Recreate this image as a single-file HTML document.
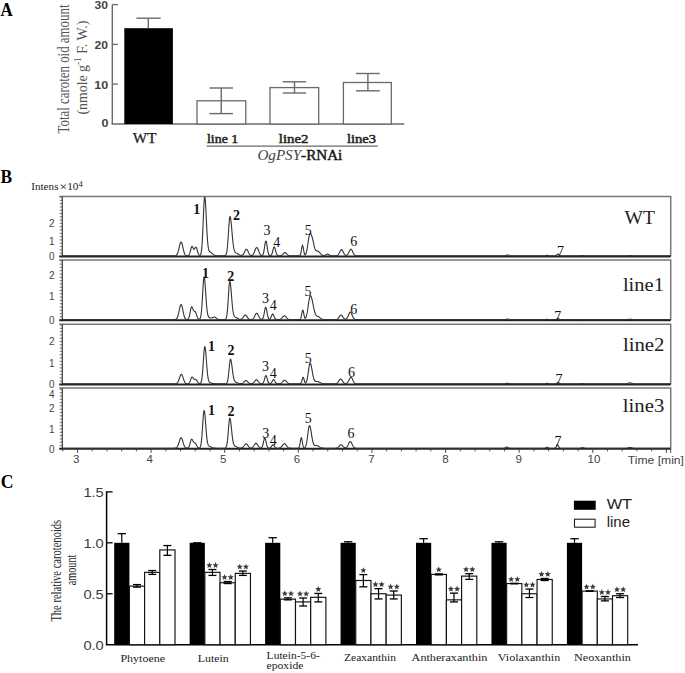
<!DOCTYPE html>
<html><head><meta charset="utf-8"><style>
html,body{margin:0;padding:0;background:#fff;width:685px;height:673px;overflow:hidden;font-family:"Liberation Sans",sans-serif;}
svg{display:block;}
</style></head><body>
<svg width="685" height="673" viewBox="0 0 685 673">
<text x="0.60" y="15.70" font-family='"Liberation Serif", serif' font-size="19.5" font-weight="bold" font-style="normal" fill="#000" text-anchor="start" textLength="12.20" lengthAdjust="spacingAndGlyphs" >A</text>
<line x1="112.30" y1="4.50" x2="112.30" y2="124.00" stroke="#6a6a6a" stroke-width="1.4"/>
<line x1="111.60" y1="124.00" x2="404.20" y2="124.00" stroke="#6a6a6a" stroke-width="1.4"/>
<line x1="112.30" y1="4.60" x2="117.90" y2="4.60" stroke="#6a6a6a" stroke-width="1.3"/>
<line x1="112.30" y1="44.40" x2="117.90" y2="44.40" stroke="#6a6a6a" stroke-width="1.3"/>
<line x1="112.30" y1="84.10" x2="117.90" y2="84.10" stroke="#6a6a6a" stroke-width="1.3"/>
<text x="94.50" y="8.80" font-family='"Liberation Sans", sans-serif' font-size="10.6" font-weight="bold" font-style="normal" fill="#444" text-anchor="start" textLength="13.50" lengthAdjust="spacingAndGlyphs" >30</text>
<text x="94.50" y="48.60" font-family='"Liberation Sans", sans-serif' font-size="10.6" font-weight="bold" font-style="normal" fill="#444" text-anchor="start" textLength="13.50" lengthAdjust="spacingAndGlyphs" >20</text>
<text x="94.20" y="88.70" font-family='"Liberation Sans", sans-serif' font-size="10.6" font-weight="bold" font-style="normal" fill="#444" text-anchor="start" textLength="14.00" lengthAdjust="spacingAndGlyphs" >10</text>
<text x="101.40" y="127.00" font-family='"Liberation Sans", sans-serif' font-size="10.6" font-weight="bold" font-style="normal" fill="#444" text-anchor="start" textLength="7.00" lengthAdjust="spacingAndGlyphs" >0</text>
<g transform="translate(69.3,133.5) rotate(-90)">
<text x="0.00" y="0.00" font-family='"Liberation Serif", serif' font-size="16.5" font-weight="normal" font-style="normal" fill="#555" text-anchor="start" textLength="129.00" lengthAdjust="spacingAndGlyphs" >Total caroten oid amount</text>
</g>
<g transform="translate(86.8,114.6) rotate(-90)">
<text x="0.00" y="0.00" font-family='"Liberation Serif", serif' font-size="15.0" font-weight="normal" font-style="normal" fill="#555" text-anchor="start" textLength="94.00" lengthAdjust="spacingAndGlyphs" >(nmole g<tspan dy="-5.5" font-size="10">-1</tspan><tspan dy="5.5"> F. W.)</tspan></text>
</g>
<rect x="124.30" y="28.20" width="48.60" height="95.80" fill="#000" stroke="none" stroke-width="0"/>
<line x1="148.30" y1="18.20" x2="148.30" y2="28.20" stroke="#6a6a6a" stroke-width="1.4"/>
<line x1="136.40" y1="18.20" x2="160.70" y2="18.20" stroke="#6a6a6a" stroke-width="1.4"/>
<rect x="197.00" y="100.80" width="48.80" height="23.20" fill="#fff" stroke="#6a6a6a" stroke-width="1.3"/>
<line x1="221.25" y1="88.00" x2="221.25" y2="113.60" stroke="#6a6a6a" stroke-width="1.4"/>
<line x1="209.50" y1="88.00" x2="233.00" y2="88.00" stroke="#6a6a6a" stroke-width="1.4"/>
<line x1="209.50" y1="113.60" x2="233.00" y2="113.60" stroke="#6a6a6a" stroke-width="1.4"/>
<rect x="270.00" y="87.60" width="48.70" height="36.40" fill="#fff" stroke="#6a6a6a" stroke-width="1.3"/>
<line x1="294.50" y1="81.80" x2="294.50" y2="93.00" stroke="#6a6a6a" stroke-width="1.4"/>
<line x1="282.80" y1="81.80" x2="306.20" y2="81.80" stroke="#6a6a6a" stroke-width="1.4"/>
<line x1="282.80" y1="93.00" x2="306.20" y2="93.00" stroke="#6a6a6a" stroke-width="1.4"/>
<rect x="343.40" y="82.50" width="47.90" height="41.50" fill="#fff" stroke="#6a6a6a" stroke-width="1.3"/>
<line x1="367.90" y1="73.50" x2="367.90" y2="90.80" stroke="#6a6a6a" stroke-width="1.4"/>
<line x1="356.00" y1="73.50" x2="379.80" y2="73.50" stroke="#6a6a6a" stroke-width="1.4"/>
<line x1="356.00" y1="90.80" x2="379.80" y2="90.80" stroke="#6a6a6a" stroke-width="1.4"/>
<text x="132.80" y="143.20" font-family='"Liberation Serif", serif' font-size="14.2" font-weight="normal" font-style="normal" fill="#1a1a1a" text-anchor="start" textLength="23.70" lengthAdjust="spacingAndGlyphs" stroke="#1a1a1a" stroke-width="0.25">WT</text>
<text x="207.00" y="143.00" font-family='"Liberation Serif", serif' font-size="13.5" font-weight="normal" font-style="normal" fill="#222" text-anchor="start" textLength="31.30" lengthAdjust="spacingAndGlyphs" stroke="#222" stroke-width="0.5">line 1</text>
<text x="278.80" y="143.00" font-family='"Liberation Serif", serif' font-size="13.5" font-weight="normal" font-style="normal" fill="#222" text-anchor="start" textLength="29.60" lengthAdjust="spacingAndGlyphs" stroke="#222" stroke-width="0.5">line2</text>
<text x="346.90" y="143.30" font-family='"Liberation Serif", serif' font-size="13.5" font-weight="normal" font-style="normal" fill="#222" text-anchor="start" textLength="29.20" lengthAdjust="spacingAndGlyphs" stroke="#222" stroke-width="0.5">line3</text>
<line x1="206.60" y1="146.10" x2="377.90" y2="146.10" stroke="#6a6a6a" stroke-width="1.3"/>
<text x="257.40" y="159.80" font-family='"Liberation Serif", serif' font-size="14" font-weight="normal" font-style="normal" fill="#222" text-anchor="start" textLength="84.90" lengthAdjust="spacingAndGlyphs" ><tspan font-style="italic" fill="#444">OgPSY</tspan><tspan fill="#111" stroke="#111" stroke-width="0.4">-RNAi</tspan></text>
<text x="0.60" y="182.70" font-family='"Liberation Serif", serif' font-size="19.5" font-weight="bold" font-style="normal" fill="#000" text-anchor="start" textLength="11.60" lengthAdjust="spacingAndGlyphs" >B</text>
<text x="31.20" y="189.90" font-family='"Liberation Serif", serif' font-size="10.5" font-weight="normal" font-style="normal" fill="#222" text-anchor="start" textLength="51.50" lengthAdjust="spacingAndGlyphs" >Intens<tspan font-size="13" dx="0.8" dy="1.5">×</tspan><tspan dy="-1.5">10</tspan><tspan dy="-3.2" font-size="8">4</tspan></text>
<path d="M59.30,196.40 H670.70 V256.40" fill="none" stroke="#777" stroke-width="1.5"/>
<line x1="62.30" y1="196.40" x2="62.30" y2="256.40" stroke="#444" stroke-width="1.3"/>
<line x1="59.70" y1="256.40" x2="62.30" y2="256.40" stroke="#666" stroke-width="0.9"/>
<line x1="59.70" y1="253.10" x2="62.30" y2="253.10" stroke="#666" stroke-width="0.9"/>
<line x1="59.70" y1="249.80" x2="62.30" y2="249.80" stroke="#666" stroke-width="0.9"/>
<line x1="59.70" y1="246.50" x2="62.30" y2="246.50" stroke="#666" stroke-width="0.9"/>
<line x1="59.70" y1="243.20" x2="62.30" y2="243.20" stroke="#666" stroke-width="0.9"/>
<line x1="59.70" y1="239.90" x2="62.30" y2="239.90" stroke="#666" stroke-width="0.9"/>
<line x1="59.70" y1="236.60" x2="62.30" y2="236.60" stroke="#666" stroke-width="0.9"/>
<line x1="59.70" y1="233.30" x2="62.30" y2="233.30" stroke="#666" stroke-width="0.9"/>
<line x1="59.70" y1="230.00" x2="62.30" y2="230.00" stroke="#666" stroke-width="0.9"/>
<line x1="59.70" y1="226.70" x2="62.30" y2="226.70" stroke="#666" stroke-width="0.9"/>
<line x1="59.70" y1="223.40" x2="62.30" y2="223.40" stroke="#666" stroke-width="0.9"/>
<line x1="59.70" y1="220.10" x2="62.30" y2="220.10" stroke="#666" stroke-width="0.9"/>
<line x1="59.70" y1="216.80" x2="62.30" y2="216.80" stroke="#666" stroke-width="0.9"/>
<line x1="59.70" y1="213.50" x2="62.30" y2="213.50" stroke="#666" stroke-width="0.9"/>
<line x1="59.70" y1="210.20" x2="62.30" y2="210.20" stroke="#666" stroke-width="0.9"/>
<line x1="59.70" y1="206.90" x2="62.30" y2="206.90" stroke="#666" stroke-width="0.9"/>
<line x1="59.70" y1="203.60" x2="62.30" y2="203.60" stroke="#666" stroke-width="0.9"/>
<line x1="59.70" y1="200.30" x2="62.30" y2="200.30" stroke="#666" stroke-width="0.9"/>
<line x1="59.70" y1="197.00" x2="62.30" y2="197.00" stroke="#666" stroke-width="0.9"/>
<line x1="59.30" y1="256.40" x2="670.70" y2="256.40" stroke="#222" stroke-width="2.0"/>
<text x="54.60" y="227.00" font-family='"Liberation Sans", sans-serif' font-size="10" font-weight="normal" font-style="normal" fill="#444" text-anchor="end" >2</text>
<text x="54.60" y="244.70" font-family='"Liberation Sans", sans-serif' font-size="10" font-weight="normal" font-style="normal" fill="#444" text-anchor="end" >1</text>
<text x="54.60" y="259.50" font-family='"Liberation Sans", sans-serif' font-size="10" font-weight="normal" font-style="normal" fill="#444" text-anchor="end" >0</text>
<polyline points="62.5,255.80 63.0,255.80 63.5,255.80 64.0,255.80 64.5,255.80 65.0,255.80 65.5,255.80 66.0,255.80 66.5,255.80 67.0,255.80 67.5,255.80 68.0,255.80 68.5,255.80 69.0,255.80 69.5,255.80 70.0,255.80 70.5,255.80 71.0,255.80 71.5,255.80 72.0,255.80 72.5,255.80 73.0,255.80 73.5,255.80 74.0,255.80 74.5,255.80 75.0,255.80 75.5,255.80 76.0,255.80 76.5,255.80 77.0,255.80 77.5,255.80 78.0,255.80 78.5,255.80 79.0,255.80 79.5,255.80 80.0,255.80 80.5,255.80 81.0,255.80 81.5,255.80 82.0,255.80 82.5,255.80 83.0,255.80 83.5,255.80 84.0,255.80 84.5,255.80 85.0,255.80 85.5,255.80 86.0,255.80 86.5,255.80 87.0,255.80 87.5,255.80 88.0,255.80 88.5,255.80 89.0,255.80 89.5,255.80 90.0,255.80 90.5,255.80 91.0,255.80 91.5,255.80 92.0,255.80 92.5,255.80 93.0,255.80 93.5,255.80 94.0,255.80 94.5,255.80 95.0,255.80 95.5,255.80 96.0,255.80 96.5,255.80 97.0,255.80 97.5,255.80 98.0,255.80 98.5,255.80 99.0,255.80 99.5,255.80 100.0,255.80 100.5,255.80 101.0,255.80 101.5,255.80 102.0,255.80 102.5,255.80 103.0,255.80 103.5,255.80 104.0,255.80 104.5,255.80 105.0,255.80 105.5,255.80 106.0,255.80 106.5,255.80 107.0,255.80 107.5,255.80 108.0,255.80 108.5,255.80 109.0,255.80 109.5,255.80 110.0,255.80 110.5,255.80 111.0,255.80 111.5,255.80 112.0,255.80 112.5,255.80 113.0,255.80 113.5,255.80 114.0,255.80 114.5,255.80 115.0,255.80 115.5,255.80 116.0,255.80 116.5,255.80 117.0,255.80 117.5,255.80 118.0,255.80 118.5,255.80 119.0,255.80 119.5,255.80 120.0,255.80 120.5,255.80 121.0,255.80 121.5,255.80 122.0,255.80 122.5,255.80 123.0,255.80 123.5,255.80 124.0,255.80 124.5,255.80 125.0,255.80 125.5,255.80 126.0,255.80 126.5,255.80 127.0,255.80 127.5,255.80 128.0,255.80 128.5,255.80 129.0,255.80 129.5,255.80 130.0,255.80 130.5,255.80 131.0,255.80 131.5,255.80 132.0,255.80 132.5,255.80 133.0,255.80 133.5,255.80 134.0,255.80 134.5,255.80 135.0,255.80 135.5,255.80 136.0,255.80 136.5,255.80 137.0,255.80 137.5,255.80 138.0,255.80 138.5,255.80 139.0,255.80 139.5,255.80 140.0,255.80 140.5,255.80 141.0,255.80 141.5,255.80 142.0,255.80 142.5,255.80 143.0,255.80 143.5,255.80 144.0,255.80 144.5,255.80 145.0,255.80 145.5,255.80 146.0,255.80 146.5,255.80 147.0,255.80 147.5,255.80 148.0,255.80 148.5,255.80 149.0,255.80 149.5,255.80 150.0,255.80 150.5,255.80 151.0,255.80 151.5,255.80 152.0,255.80 152.5,255.80 153.0,255.80 153.5,255.80 154.0,255.80 154.5,255.80 155.0,255.80 155.5,255.80 156.0,255.80 156.5,255.80 157.0,255.80 157.5,255.80 158.0,255.80 158.5,255.80 159.0,255.80 159.5,255.80 160.0,255.80 160.5,255.80 161.0,255.80 161.5,255.80 162.0,255.80 162.5,255.80 163.0,255.80 163.5,255.80 164.0,255.80 164.5,255.80 165.0,255.80 165.5,255.80 166.0,255.80 166.5,255.80 167.0,255.80 167.5,255.80 168.0,255.80 168.5,255.80 169.0,255.80 169.5,255.80 170.0,255.80 170.5,255.80 171.0,255.80 171.5,255.80 172.0,255.80 172.5,255.80 173.0,255.80 173.5,255.80 174.0,255.79 174.5,255.77 175.0,255.72 175.5,255.62 176.0,255.42 176.5,255.06 177.0,254.45 177.5,253.51 178.0,252.15 178.5,250.39 179.0,248.31 179.5,246.12 180.0,244.13 180.5,242.67 181.0,242.02 181.5,242.34 182.0,243.62 182.5,245.60 183.0,247.89 183.5,250.13 184.0,252.03 184.5,253.48 185.0,254.48 185.5,255.10 186.0,255.46 186.5,255.64 187.0,255.72 187.5,255.72 188.0,255.63 188.5,255.39 189.0,254.86 189.5,253.90 190.0,252.43 190.5,250.53 191.0,248.54 191.5,246.97 192.0,246.30 192.5,246.65 193.0,247.69 193.5,248.80 194.0,249.35 194.5,249.09 195.0,248.24 195.5,247.37 196.0,247.10 196.5,247.73 197.0,249.17 197.5,250.98 198.0,252.72 198.5,254.06 199.0,254.91 199.5,255.32 200.0,255.34 200.5,254.85 201.0,253.49 201.5,250.61 202.0,245.35 202.5,237.12 203.0,226.10 203.5,213.85 204.0,203.15 204.5,197.05 205.0,197.26 205.5,202.81 206.0,212.03 206.5,222.64 207.0,232.51 207.5,240.31 208.0,245.66 208.5,248.89 209.0,250.63 209.5,251.50 210.0,251.97 210.5,252.29 211.0,252.61 211.5,252.97 212.0,253.35 212.5,253.74 213.0,254.13 213.5,254.48 214.0,254.80 214.5,255.06 215.0,255.27 215.5,255.43 216.0,255.55 216.5,255.64 217.0,255.70 217.5,255.74 218.0,255.76 218.5,255.78 219.0,255.79 219.5,255.79 220.0,255.80 220.5,255.80 221.0,255.80 221.5,255.80 222.0,255.80 222.5,255.80 223.0,255.80 223.5,255.80 224.0,255.79 224.5,255.75 225.0,255.65 225.5,255.36 226.0,254.68 226.5,253.22 227.0,250.49 227.5,246.03 228.0,239.69 228.5,232.02 229.0,224.38 229.5,218.63 230.0,216.40 230.5,217.57 231.0,221.09 231.5,226.26 232.0,232.15 232.5,237.86 233.0,242.77 233.5,246.55 234.0,249.20 234.5,250.90 235.0,251.91 235.5,252.50 236.0,252.87 236.5,253.15 237.0,253.41 237.5,253.68 238.0,253.98 238.5,254.27 239.0,254.56 239.5,254.82 240.0,255.04 240.5,255.22 241.0,255.33 241.5,255.36 242.0,255.28 242.5,255.05 243.0,254.62 243.5,253.95 244.0,253.06 244.5,252.00 245.0,250.92 245.5,249.97 246.0,249.36 246.5,249.21 247.0,249.56 247.5,250.32 248.0,251.35 248.5,252.46 249.0,253.47 249.5,254.30 250.0,254.89 250.5,255.27 251.0,255.46 251.5,255.48 252.0,255.36 252.5,255.06 253.0,254.55 253.5,253.79 254.0,252.78 254.5,251.55 255.0,250.24 255.5,249.00 256.0,248.04 256.5,247.55 257.0,247.60 257.5,248.20 258.0,249.23 258.5,250.50 259.0,251.81 259.5,253.00 260.0,253.96 260.5,254.67 261.0,255.15 261.5,255.41 262.0,255.47 262.5,255.24 263.0,254.54 263.5,253.09 264.0,250.71 264.5,247.51 265.0,244.15 265.5,241.68 266.0,241.04 266.5,242.50 267.0,245.45 267.5,248.86 268.0,251.79 268.5,253.80 269.0,254.94 269.5,255.47 270.0,255.65 270.5,255.62 271.0,255.36 271.5,254.77 272.0,253.67 272.5,252.02 273.0,249.99 273.5,248.10 274.0,247.00 274.5,247.13 275.0,248.44 275.5,250.40 276.0,252.39 276.5,253.94 277.0,254.92 277.5,255.44 278.0,255.67 278.5,255.76 279.0,255.78 279.5,255.77 280.0,255.73 280.5,255.65 281.0,255.52 281.5,255.30 282.0,254.98 282.5,254.54 283.0,254.02 283.5,253.47 284.0,252.97 284.5,252.62 285.0,252.50 285.5,252.62 286.0,252.97 286.5,253.47 287.0,254.02 287.5,254.54 288.0,254.98 288.5,255.30 289.0,255.52 289.5,255.66 290.0,255.73 290.5,255.77 291.0,255.79 291.5,255.80 292.0,255.80 292.5,255.80 293.0,255.80 293.5,255.80 294.0,255.80 294.5,255.80 295.0,255.80 295.5,255.80 296.0,255.80 296.5,255.80 297.0,255.80 297.5,255.80 298.0,255.80 298.5,255.80 299.0,255.78 299.5,255.68 300.0,255.33 300.5,254.35 301.0,252.33 301.5,249.31 302.0,246.36 302.5,245.10 303.0,246.35 303.5,249.28 304.0,252.23 304.5,254.11 305.0,254.78 305.5,254.54 306.0,253.58 306.5,251.94 307.0,249.55 307.5,246.50 308.0,243.04 308.5,239.59 309.0,236.65 309.5,234.60 310.0,233.60 310.5,233.53 311.0,234.16 311.5,235.25 312.0,236.70 312.5,238.48 313.0,240.60 313.5,242.92 314.0,245.24 314.5,247.29 315.0,248.88 315.5,249.94 316.0,250.53 316.5,250.79 317.0,250.90 317.5,251.00 318.0,251.18 318.5,251.48 319.0,251.90 319.5,252.42 320.0,252.98 320.5,253.53 321.0,254.05 321.5,254.50 322.0,254.88 322.5,255.16 323.0,255.37 323.5,255.49 324.0,255.53 324.5,255.48 325.0,255.32 325.5,255.07 326.0,254.76 326.5,254.43 327.0,254.19 327.5,254.10 328.0,254.19 328.5,254.44 329.0,254.77 329.5,255.10 330.0,255.38 330.5,255.57 331.0,255.69 331.5,255.75 332.0,255.78 332.5,255.79 333.0,255.80 333.5,255.80 334.0,255.80 334.5,255.80 335.0,255.79 335.5,255.78 336.0,255.74 336.5,255.67 337.0,255.53 337.5,255.28 338.0,254.86 338.5,254.25 339.0,253.44 339.5,252.46 340.0,251.42 340.5,250.49 341.0,249.83 341.5,249.60 342.0,249.83 342.5,250.49 343.0,251.42 343.5,252.45 344.0,253.43 344.5,254.24 345.0,254.83 345.5,255.20 346.0,255.37 346.5,255.34 347.0,255.11 347.5,254.67 348.0,253.99 348.5,253.08 349.0,252.02 349.5,250.92 350.0,249.98 350.5,249.36 351.0,249.21 351.5,249.56 352.0,250.32 352.5,251.35 353.0,252.46 353.5,253.47 354.0,254.30 354.5,254.91 355.0,255.31 355.5,255.55 356.0,255.68 356.5,255.75 357.0,255.78 357.5,255.79 358.0,255.80 358.5,255.80 359.0,255.80 359.5,255.80 360.0,255.80 360.5,255.80 361.0,255.80 361.5,255.80 362.0,255.80 362.5,255.80 363.0,255.80 363.5,255.80 364.0,255.80 364.5,255.80 365.0,255.80 365.5,255.80 366.0,255.80 366.5,255.80 367.0,255.80 367.5,255.80 368.0,255.80 368.5,255.80 369.0,255.80 369.5,255.80 370.0,255.80 370.5,255.80 371.0,255.80 371.5,255.80 372.0,255.80 372.5,255.80 373.0,255.80 373.5,255.80 374.0,255.80 374.5,255.80 375.0,255.80 375.5,255.80 376.0,255.80 376.5,255.80 377.0,255.80 377.5,255.80 378.0,255.80 378.5,255.80 379.0,255.80 379.5,255.80 380.0,255.80 380.5,255.80 381.0,255.80 381.5,255.80 382.0,255.80 382.5,255.80 383.0,255.80 383.5,255.80 384.0,255.80 384.5,255.80 385.0,255.80 385.5,255.80 386.0,255.80 386.5,255.80 387.0,255.80 387.5,255.80 388.0,255.80 388.5,255.80 389.0,255.80 389.5,255.80 390.0,255.80 390.5,255.80 391.0,255.80 391.5,255.80 392.0,255.80 392.5,255.80 393.0,255.80 393.5,255.80 394.0,255.80 394.5,255.80 395.0,255.80 395.5,255.80 396.0,255.80 396.5,255.80 397.0,255.80 397.5,255.80 398.0,255.80 398.5,255.80 399.0,255.80 399.5,255.80 400.0,255.80 400.5,255.80 401.0,255.80 401.5,255.80 402.0,255.80 402.5,255.80 403.0,255.80 403.5,255.80 404.0,255.80 404.5,255.80 405.0,255.80 405.5,255.80 406.0,255.80 406.5,255.80 407.0,255.80 407.5,255.80 408.0,255.80 408.5,255.80 409.0,255.80 409.5,255.80 410.0,255.80 410.5,255.80 411.0,255.80 411.5,255.80 412.0,255.80 412.5,255.80 413.0,255.80 413.5,255.80 414.0,255.80 414.5,255.80 415.0,255.80 415.5,255.80 416.0,255.80 416.5,255.80 417.0,255.80 417.5,255.80 418.0,255.80 418.5,255.80 419.0,255.80 419.5,255.80 420.0,255.80 420.5,255.80 421.0,255.80 421.5,255.80 422.0,255.80 422.5,255.80 423.0,255.80 423.5,255.80 424.0,255.80 424.5,255.80 425.0,255.80 425.5,255.80 426.0,255.80 426.5,255.80 427.0,255.80 427.5,255.80 428.0,255.80 428.5,255.80 429.0,255.80 429.5,255.80 430.0,255.80 430.5,255.80 431.0,255.80 431.5,255.80 432.0,255.80 432.5,255.80 433.0,255.80 433.5,255.80 434.0,255.80 434.5,255.80 435.0,255.80 435.5,255.80 436.0,255.80 436.5,255.80 437.0,255.80 437.5,255.80 438.0,255.80 438.5,255.80 439.0,255.80 439.5,255.80 440.0,255.80 440.5,255.80 441.0,255.80 441.5,255.80 442.0,255.80 442.5,255.80 443.0,255.80 443.5,255.80 444.0,255.80 444.5,255.80 445.0,255.80 445.5,255.80 446.0,255.80 446.5,255.80 447.0,255.80 447.5,255.80 448.0,255.80 448.5,255.80 449.0,255.80 449.5,255.80 450.0,255.80 450.5,255.80 451.0,255.80 451.5,255.80 452.0,255.80 452.5,255.80 453.0,255.80 453.5,255.80 454.0,255.80 454.5,255.80 455.0,255.80 455.5,255.80 456.0,255.80 456.5,255.80 457.0,255.80 457.5,255.80 458.0,255.80 458.5,255.80 459.0,255.80 459.5,255.80 460.0,255.80 460.5,255.80 461.0,255.80 461.5,255.80 462.0,255.80 462.5,255.80 463.0,255.80 463.5,255.80 464.0,255.80 464.5,255.80 465.0,255.80 465.5,255.80 466.0,255.80 466.5,255.80 467.0,255.80 467.5,255.80 468.0,255.80 468.5,255.80 469.0,255.80 469.5,255.80 470.0,255.80 470.5,255.80 471.0,255.80 471.5,255.80 472.0,255.80 472.5,255.80 473.0,255.80 473.5,255.80 474.0,255.80 474.5,255.80 475.0,255.80 475.5,255.80 476.0,255.80 476.5,255.80 477.0,255.80 477.5,255.80 478.0,255.80 478.5,255.80 479.0,255.80 479.5,255.80 480.0,255.80 480.5,255.80 481.0,255.80 481.5,255.80 482.0,255.80 482.5,255.80 483.0,255.80 483.5,255.80 484.0,255.80 484.5,255.80 485.0,255.80 485.5,255.80 486.0,255.80 486.5,255.80 487.0,255.80 487.5,255.80 488.0,255.80 488.5,255.80 489.0,255.80 489.5,255.80 490.0,255.80 490.5,255.80 491.0,255.80 491.5,255.80 492.0,255.80 492.5,255.80 493.0,255.80 493.5,255.80 494.0,255.80 494.5,255.80 495.0,255.80 495.5,255.80 496.0,255.80 496.5,255.80 497.0,255.80 497.5,255.80 498.0,255.80 498.5,255.80 499.0,255.80 499.5,255.80 500.0,255.80 500.5,255.80 501.0,255.80 501.5,255.80 502.0,255.80 502.5,255.80 503.0,255.80 503.5,255.80 504.0,255.79 504.5,255.76 505.0,255.70 505.5,255.58 506.0,255.39 506.5,255.16 507.0,254.97 507.5,254.90 508.0,254.97 508.5,255.16 509.0,255.39 509.5,255.58 510.0,255.70 510.5,255.76 511.0,255.79 511.5,255.80 512.0,255.80 512.5,255.80 513.0,255.80 513.5,255.80 514.0,255.80 514.5,255.80 515.0,255.80 515.5,255.80 516.0,255.80 516.5,255.80 517.0,255.80 517.5,255.80 518.0,255.80 518.5,255.80 519.0,255.80 519.5,255.80 520.0,255.80 520.5,255.80 521.0,255.80 521.5,255.80 522.0,255.80 522.5,255.80 523.0,255.80 523.5,255.80 524.0,255.80 524.5,255.80 525.0,255.80 525.5,255.80 526.0,255.80 526.5,255.80 527.0,255.80 527.5,255.80 528.0,255.80 528.5,255.80 529.0,255.80 529.5,255.80 530.0,255.80 530.5,255.80 531.0,255.80 531.5,255.80 532.0,255.80 532.5,255.80 533.0,255.80 533.5,255.80 534.0,255.80 534.5,255.80 535.0,255.80 535.5,255.80 536.0,255.80 536.5,255.80 537.0,255.80 537.5,255.80 538.0,255.80 538.5,255.80 539.0,255.80 539.5,255.80 540.0,255.80 540.5,255.80 541.0,255.80 541.5,255.80 542.0,255.80 542.5,255.80 543.0,255.80 543.5,255.80 544.0,255.79 544.5,255.78 545.0,255.73 545.5,255.64 546.0,255.50 546.5,255.36 547.0,255.30 547.5,255.36 548.0,255.50 548.5,255.64 549.0,255.73 549.5,255.78 550.0,255.79 550.5,255.80 551.0,255.80 551.5,255.80 552.0,255.80 552.5,255.80 553.0,255.80 553.5,255.80 554.0,255.80 554.5,255.80 555.0,255.78 555.5,255.72 556.0,255.56 556.5,255.22 557.0,254.71 557.5,254.21 558.0,254.00 558.5,254.21 559.0,254.71 559.5,255.22 560.0,255.56 560.5,255.72 561.0,255.78 561.5,255.80 562.0,255.80 562.5,255.80 563.0,255.80 563.5,255.80 564.0,255.80 564.5,255.80 565.0,255.80 565.5,255.80 566.0,255.80 566.5,255.80 567.0,255.80 567.5,255.80 568.0,255.80 568.5,255.80 569.0,255.80 569.5,255.80 570.0,255.80 570.5,255.80 571.0,255.80 571.5,255.80 572.0,255.80 572.5,255.80 573.0,255.80 573.5,255.80 574.0,255.80 574.5,255.80 575.0,255.80 575.5,255.80 576.0,255.80 576.5,255.80 577.0,255.80 577.5,255.80 578.0,255.80 578.5,255.80 579.0,255.80 579.5,255.80 580.0,255.79 580.5,255.76 581.0,255.70 581.5,255.62 582.0,255.54 582.5,255.50 583.0,255.54 583.5,255.62 584.0,255.70 584.5,255.76 585.0,255.79 585.5,255.80 586.0,255.80 586.5,255.80 587.0,255.80 587.5,255.80 588.0,255.80 588.5,255.80 589.0,255.80 589.5,255.80 590.0,255.80 590.5,255.80 591.0,255.80 591.5,255.80 592.0,255.80 592.5,255.80 593.0,255.80 593.5,255.80 594.0,255.80 594.5,255.80 595.0,255.80 595.5,255.80 596.0,255.80 596.5,255.80 597.0,255.80 597.5,255.80 598.0,255.80 598.5,255.80 599.0,255.80 599.5,255.80 600.0,255.80 600.5,255.80 601.0,255.80 601.5,255.80 602.0,255.80 602.5,255.80 603.0,255.80 603.5,255.80 604.0,255.80 604.5,255.80 605.0,255.80 605.5,255.80 606.0,255.80 606.5,255.80 607.0,255.80 607.5,255.80 608.0,255.80 608.5,255.80 609.0,255.80 609.5,255.80 610.0,255.80 610.5,255.80 611.0,255.80 611.5,255.80 612.0,255.80 612.5,255.80 613.0,255.80 613.5,255.80 614.0,255.80 614.5,255.80 615.0,255.80 615.5,255.80 616.0,255.80 616.5,255.80 617.0,255.80 617.5,255.80 618.0,255.80 618.5,255.80 619.0,255.80 619.5,255.80 620.0,255.80 620.5,255.80 621.0,255.80 621.5,255.80 622.0,255.80 622.5,255.80 623.0,255.80 623.5,255.80 624.0,255.80 624.5,255.80 625.0,255.80 625.5,255.80 626.0,255.79 626.5,255.78 627.0,255.76 627.5,255.73 628.0,255.68 628.5,255.62 629.0,255.56 629.5,255.52 630.0,255.50 630.5,255.52 631.0,255.56 631.5,255.62 632.0,255.68 632.5,255.73 633.0,255.76 633.5,255.78 634.0,255.79 634.5,255.80 635.0,255.80 635.5,255.80 636.0,255.80 636.5,255.80 637.0,255.80 637.5,255.80 638.0,255.80 638.5,255.80 639.0,255.80 639.5,255.80 640.0,255.80 640.5,255.80 641.0,255.80 641.5,255.80 642.0,255.80 642.5,255.80 643.0,255.80 643.5,255.80 644.0,255.80 644.5,255.80 645.0,255.80 645.5,255.80 646.0,255.80 646.5,255.80 647.0,255.80 647.5,255.80 648.0,255.80 648.5,255.80 649.0,255.80 649.5,255.80 650.0,255.80 650.5,255.80 651.0,255.80 651.5,255.80 652.0,255.80 652.5,255.80 653.0,255.80 653.5,255.80 654.0,255.80 654.5,255.80 655.0,255.80 655.5,255.80 656.0,255.80 656.5,255.80 657.0,255.80 657.5,255.80 658.0,255.80 658.5,255.80 659.0,255.80 659.5,255.80 660.0,255.80 660.5,255.80 661.0,255.80 661.5,255.80 662.0,255.80 662.5,255.80 663.0,255.80 663.5,255.80 664.0,255.80 664.5,255.80 665.0,255.80 665.5,255.80 666.0,255.80 666.5,255.80 667.0,255.80 667.5,255.80 668.0,255.80 668.5,255.80 669.0,255.80 669.5,255.80 670.0,255.80 670.5,255.80" fill="none" stroke="#333" stroke-width="1.1" stroke-linejoin="round"/>
<text x="193.30" y="213.60" font-family='"Liberation Serif", serif' font-size="14" font-weight="bold" font-style="normal" fill="#111" text-anchor="start" >1</text>
<text x="233.00" y="219.80" font-family='"Liberation Serif", serif' font-size="14" font-weight="bold" font-style="normal" fill="#111" text-anchor="start" >2</text>
<text x="263.40" y="235.40" font-family='"Liberation Serif", serif' font-size="14" font-weight="normal" font-style="normal" fill="#111" text-anchor="start" >3</text>
<text x="273.30" y="246.90" font-family='"Liberation Serif", serif' font-size="14" font-weight="normal" font-style="normal" fill="#111" text-anchor="start" >4</text>
<text x="304.80" y="235.20" font-family='"Liberation Serif", serif' font-size="14" font-weight="normal" font-style="normal" fill="#111" text-anchor="start" >5</text>
<text x="350.30" y="246.30" font-family='"Liberation Serif", serif' font-size="14" font-weight="normal" font-style="normal" fill="#111" text-anchor="start" >6</text>
<text x="557.00" y="255.90" font-family='"Liberation Serif", serif' font-size="14" font-weight="normal" font-style="normal" fill="#111" text-anchor="start" >7</text>
<text x="624.60" y="223.90" font-family='"Liberation Serif", serif' font-size="19" font-weight="normal" font-style="normal" fill="#222" text-anchor="start" textLength="30.40" lengthAdjust="spacingAndGlyphs" >WT</text>
<path d="M59.30,260.00 H670.70 V320.20" fill="none" stroke="#777" stroke-width="1.5"/>
<line x1="62.30" y1="260.00" x2="62.30" y2="320.20" stroke="#444" stroke-width="1.3"/>
<line x1="59.70" y1="320.20" x2="62.30" y2="320.20" stroke="#666" stroke-width="0.9"/>
<line x1="59.70" y1="316.90" x2="62.30" y2="316.90" stroke="#666" stroke-width="0.9"/>
<line x1="59.70" y1="313.60" x2="62.30" y2="313.60" stroke="#666" stroke-width="0.9"/>
<line x1="59.70" y1="310.30" x2="62.30" y2="310.30" stroke="#666" stroke-width="0.9"/>
<line x1="59.70" y1="307.00" x2="62.30" y2="307.00" stroke="#666" stroke-width="0.9"/>
<line x1="59.70" y1="303.70" x2="62.30" y2="303.70" stroke="#666" stroke-width="0.9"/>
<line x1="59.70" y1="300.40" x2="62.30" y2="300.40" stroke="#666" stroke-width="0.9"/>
<line x1="59.70" y1="297.10" x2="62.30" y2="297.10" stroke="#666" stroke-width="0.9"/>
<line x1="59.70" y1="293.80" x2="62.30" y2="293.80" stroke="#666" stroke-width="0.9"/>
<line x1="59.70" y1="290.50" x2="62.30" y2="290.50" stroke="#666" stroke-width="0.9"/>
<line x1="59.70" y1="287.20" x2="62.30" y2="287.20" stroke="#666" stroke-width="0.9"/>
<line x1="59.70" y1="283.90" x2="62.30" y2="283.90" stroke="#666" stroke-width="0.9"/>
<line x1="59.70" y1="280.60" x2="62.30" y2="280.60" stroke="#666" stroke-width="0.9"/>
<line x1="59.70" y1="277.30" x2="62.30" y2="277.30" stroke="#666" stroke-width="0.9"/>
<line x1="59.70" y1="274.00" x2="62.30" y2="274.00" stroke="#666" stroke-width="0.9"/>
<line x1="59.70" y1="270.70" x2="62.30" y2="270.70" stroke="#666" stroke-width="0.9"/>
<line x1="59.70" y1="267.40" x2="62.30" y2="267.40" stroke="#666" stroke-width="0.9"/>
<line x1="59.70" y1="264.10" x2="62.30" y2="264.10" stroke="#666" stroke-width="0.9"/>
<line x1="59.70" y1="260.80" x2="62.30" y2="260.80" stroke="#666" stroke-width="0.9"/>
<line x1="59.30" y1="320.20" x2="670.70" y2="320.20" stroke="#222" stroke-width="2.0"/>
<text x="54.60" y="278.50" font-family='"Liberation Sans", sans-serif' font-size="10" font-weight="normal" font-style="normal" fill="#444" text-anchor="end" >2</text>
<text x="54.60" y="299.90" font-family='"Liberation Sans", sans-serif' font-size="10" font-weight="normal" font-style="normal" fill="#444" text-anchor="end" >1</text>
<text x="54.60" y="323.60" font-family='"Liberation Sans", sans-serif' font-size="10" font-weight="normal" font-style="normal" fill="#444" text-anchor="end" >0</text>
<polyline points="62.5,319.60 63.0,319.60 63.5,319.60 64.0,319.60 64.5,319.60 65.0,319.60 65.5,319.60 66.0,319.60 66.5,319.60 67.0,319.60 67.5,319.60 68.0,319.60 68.5,319.60 69.0,319.60 69.5,319.60 70.0,319.60 70.5,319.60 71.0,319.60 71.5,319.60 72.0,319.60 72.5,319.60 73.0,319.60 73.5,319.60 74.0,319.60 74.5,319.60 75.0,319.60 75.5,319.60 76.0,319.60 76.5,319.60 77.0,319.60 77.5,319.60 78.0,319.60 78.5,319.60 79.0,319.60 79.5,319.60 80.0,319.60 80.5,319.60 81.0,319.60 81.5,319.60 82.0,319.60 82.5,319.60 83.0,319.60 83.5,319.60 84.0,319.60 84.5,319.60 85.0,319.60 85.5,319.60 86.0,319.60 86.5,319.60 87.0,319.60 87.5,319.60 88.0,319.60 88.5,319.60 89.0,319.60 89.5,319.60 90.0,319.60 90.5,319.60 91.0,319.60 91.5,319.60 92.0,319.60 92.5,319.60 93.0,319.60 93.5,319.60 94.0,319.60 94.5,319.60 95.0,319.60 95.5,319.60 96.0,319.60 96.5,319.60 97.0,319.60 97.5,319.60 98.0,319.60 98.5,319.60 99.0,319.60 99.5,319.60 100.0,319.60 100.5,319.60 101.0,319.60 101.5,319.60 102.0,319.60 102.5,319.60 103.0,319.60 103.5,319.60 104.0,319.60 104.5,319.60 105.0,319.60 105.5,319.60 106.0,319.60 106.5,319.60 107.0,319.60 107.5,319.60 108.0,319.60 108.5,319.60 109.0,319.60 109.5,319.60 110.0,319.60 110.5,319.60 111.0,319.60 111.5,319.60 112.0,319.60 112.5,319.60 113.0,319.60 113.5,319.60 114.0,319.60 114.5,319.60 115.0,319.60 115.5,319.60 116.0,319.60 116.5,319.60 117.0,319.60 117.5,319.60 118.0,319.60 118.5,319.60 119.0,319.60 119.5,319.60 120.0,319.60 120.5,319.60 121.0,319.60 121.5,319.60 122.0,319.60 122.5,319.60 123.0,319.60 123.5,319.60 124.0,319.60 124.5,319.60 125.0,319.60 125.5,319.60 126.0,319.60 126.5,319.60 127.0,319.60 127.5,319.60 128.0,319.60 128.5,319.60 129.0,319.60 129.5,319.60 130.0,319.60 130.5,319.60 131.0,319.60 131.5,319.60 132.0,319.60 132.5,319.60 133.0,319.60 133.5,319.60 134.0,319.60 134.5,319.60 135.0,319.60 135.5,319.60 136.0,319.60 136.5,319.60 137.0,319.60 137.5,319.60 138.0,319.60 138.5,319.60 139.0,319.60 139.5,319.60 140.0,319.60 140.5,319.60 141.0,319.60 141.5,319.60 142.0,319.60 142.5,319.60 143.0,319.60 143.5,319.60 144.0,319.60 144.5,319.60 145.0,319.60 145.5,319.60 146.0,319.60 146.5,319.60 147.0,319.60 147.5,319.60 148.0,319.60 148.5,319.60 149.0,319.60 149.5,319.60 150.0,319.60 150.5,319.60 151.0,319.60 151.5,319.60 152.0,319.60 152.5,319.60 153.0,319.60 153.5,319.60 154.0,319.60 154.5,319.60 155.0,319.60 155.5,319.60 156.0,319.60 156.5,319.60 157.0,319.60 157.5,319.60 158.0,319.60 158.5,319.60 159.0,319.60 159.5,319.60 160.0,319.60 160.5,319.60 161.0,319.60 161.5,319.60 162.0,319.60 162.5,319.60 163.0,319.60 163.5,319.60 164.0,319.60 164.5,319.60 165.0,319.60 165.5,319.60 166.0,319.60 166.5,319.60 167.0,319.60 167.5,319.60 168.0,319.60 168.5,319.60 169.0,319.60 169.5,319.60 170.0,319.60 170.5,319.60 171.0,319.60 171.5,319.60 172.0,319.60 172.5,319.60 173.0,319.60 173.5,319.59 174.0,319.59 174.5,319.56 175.0,319.51 175.5,319.40 176.0,319.19 176.5,318.79 177.0,318.13 177.5,317.09 178.0,315.61 178.5,313.68 179.0,311.40 179.5,309.01 180.0,306.83 180.5,305.23 181.0,304.52 181.5,304.87 182.0,306.27 182.5,308.44 183.0,310.95 183.5,313.39 184.0,315.48 184.5,317.06 185.0,318.16 185.5,318.84 186.0,319.22 186.5,319.42 187.0,319.47 187.5,319.40 188.0,319.14 188.5,318.54 189.0,317.40 189.5,315.60 190.0,313.17 190.5,310.50 191.0,308.20 191.5,306.90 192.0,306.90 192.5,307.91 193.0,309.30 193.5,310.42 194.0,310.99 194.5,311.18 195.0,311.41 195.5,312.05 196.0,313.20 196.5,314.68 197.0,316.20 197.5,317.50 198.0,318.43 198.5,319.00 199.0,319.25 199.5,319.22 200.0,318.78 200.5,317.63 201.0,315.26 201.5,311.07 202.0,304.68 202.5,296.43 203.0,287.64 203.5,280.43 204.0,276.93 204.5,277.98 205.0,282.69 205.5,289.76 206.0,297.49 206.5,304.44 207.0,309.79 207.5,313.39 208.0,315.54 208.5,316.70 209.0,317.30 209.5,317.62 210.0,317.82 210.5,317.95 211.0,318.01 211.5,317.99 212.0,317.86 212.5,317.64 213.0,317.39 213.5,317.15 214.0,317.01 214.5,317.01 215.0,317.19 215.5,317.50 216.0,317.91 216.5,318.33 217.0,318.72 217.5,319.03 218.0,319.26 218.5,319.41 219.0,319.50 219.5,319.56 220.0,319.58 220.5,319.59 221.0,319.60 221.5,319.60 222.0,319.60 222.5,319.60 223.0,319.60 223.5,319.60 224.0,319.59 224.5,319.57 225.0,319.49 225.5,319.26 226.0,318.64 226.5,317.22 227.0,314.42 227.5,309.66 228.0,302.84 228.5,294.69 229.0,287.01 229.5,282.04 230.0,281.31 230.5,283.98 231.0,289.09 231.5,295.44 232.0,301.80 232.5,307.22 233.0,311.26 233.5,313.93 234.0,315.52 234.5,316.39 235.0,316.86 235.5,317.16 236.0,317.42 236.5,317.68 237.0,317.97 237.5,318.26 238.0,318.54 238.5,318.80 239.0,319.01 239.5,319.17 240.0,319.26 240.5,319.29 241.0,319.22 241.5,319.04 242.0,318.71 242.5,318.21 243.0,317.56 243.5,316.80 244.0,316.05 244.5,315.43 245.0,315.06 245.5,315.03 246.0,315.34 246.5,315.92 247.0,316.66 247.5,317.42 248.0,318.11 248.5,318.65 249.0,319.04 249.5,319.30 250.0,319.44 250.5,319.51 251.0,319.53 251.5,319.49 252.0,319.38 252.5,319.18 253.0,318.83 253.5,318.28 254.0,317.52 254.5,316.57 255.0,315.50 255.5,314.48 256.0,313.67 256.5,313.24 257.0,313.29 257.5,313.80 258.0,314.67 258.5,315.72 259.0,316.77 259.5,317.69 260.0,318.41 260.5,318.91 261.0,319.21 261.5,319.35 262.0,319.30 262.5,318.97 263.0,318.15 263.5,316.63 264.0,314.32 264.5,311.50 265.0,308.87 265.5,307.35 266.0,307.53 266.5,309.34 267.0,312.08 267.5,314.84 268.0,317.00 268.5,318.35 269.0,319.01 269.5,319.16 270.0,318.90 270.5,318.25 271.0,317.22 271.5,315.94 272.0,314.76 272.5,314.07 273.0,314.15 273.5,314.97 274.0,316.20 274.5,317.45 275.0,318.43 275.5,319.05 276.0,319.38 276.5,319.52 277.0,319.57 277.5,319.59 278.0,319.59 278.5,319.57 279.0,319.53 279.5,319.46 280.0,319.34 280.5,319.14 281.0,318.83 281.5,318.41 282.0,317.89 282.5,317.30 283.0,316.70 283.5,316.20 284.0,315.88 284.5,315.81 285.0,315.98 285.5,316.39 286.0,316.93 286.5,317.54 287.0,318.11 287.5,318.60 288.0,318.97 288.5,319.23 289.0,319.40 289.5,319.50 290.0,319.55 290.5,319.58 291.0,319.59 291.5,319.60 292.0,319.60 292.5,319.60 293.0,319.60 293.5,319.60 294.0,319.60 294.5,319.60 295.0,319.60 295.5,319.60 296.0,319.60 296.5,319.60 297.0,319.60 297.5,319.60 298.0,319.60 298.5,319.60 299.0,319.59 299.5,319.56 300.0,319.41 300.5,318.92 301.0,317.70 301.5,315.48 302.0,312.63 302.5,310.43 303.0,310.18 303.5,312.05 304.0,314.82 304.5,317.08 305.0,318.18 305.5,318.21 306.0,317.41 306.5,315.90 307.0,313.65 307.5,310.72 308.0,307.26 308.5,303.63 309.0,300.29 309.5,297.68 310.0,296.11 310.5,295.67 311.0,296.23 311.5,297.57 312.0,299.44 312.5,301.63 313.0,304.02 313.5,306.49 314.0,308.87 314.5,311.02 315.0,312.80 315.5,314.15 316.0,315.06 316.5,315.63 317.0,315.97 317.5,316.20 318.0,316.41 318.5,316.67 319.0,316.97 319.5,317.33 320.0,317.70 320.5,318.08 321.0,318.43 321.5,318.73 322.0,318.98 322.5,319.18 323.0,319.32 323.5,319.42 324.0,319.49 324.5,319.54 325.0,319.57 325.5,319.58 326.0,319.59 326.5,319.60 327.0,319.60 327.5,319.60 328.0,319.60 328.5,319.60 329.0,319.60 329.5,319.60 330.0,319.60 330.5,319.60 331.0,319.60 331.5,319.60 332.0,319.60 332.5,319.60 333.0,319.60 333.5,319.60 334.0,319.60 334.5,319.59 335.0,319.58 335.5,319.56 336.0,319.50 336.5,319.40 337.0,319.21 337.5,318.91 338.0,318.45 338.5,317.85 339.0,317.12 339.5,316.35 340.0,315.66 340.5,315.17 341.0,315.00 341.5,315.17 342.0,315.66 342.5,316.35 343.0,317.12 343.5,317.84 344.0,318.44 344.5,318.86 345.0,319.11 345.5,319.18 346.0,319.06 346.5,318.74 347.0,318.17 347.5,317.33 348.0,316.24 348.5,314.99 349.0,313.74 349.5,312.71 350.0,312.10 350.5,312.05 351.0,312.55 351.5,313.51 352.0,314.73 352.5,316.00 353.0,317.13 353.5,318.03 354.0,318.68 354.5,319.10 355.0,319.35 355.5,319.48 356.0,319.55 356.5,319.58 357.0,319.59 357.5,319.60 358.0,319.60 358.5,319.60 359.0,319.60 359.5,319.60 360.0,319.60 360.5,319.60 361.0,319.60 361.5,319.60 362.0,319.60 362.5,319.60 363.0,319.60 363.5,319.60 364.0,319.60 364.5,319.60 365.0,319.60 365.5,319.60 366.0,319.60 366.5,319.60 367.0,319.60 367.5,319.60 368.0,319.60 368.5,319.60 369.0,319.60 369.5,319.60 370.0,319.60 370.5,319.60 371.0,319.60 371.5,319.60 372.0,319.60 372.5,319.60 373.0,319.60 373.5,319.60 374.0,319.60 374.5,319.60 375.0,319.60 375.5,319.60 376.0,319.60 376.5,319.60 377.0,319.60 377.5,319.60 378.0,319.60 378.5,319.60 379.0,319.60 379.5,319.60 380.0,319.60 380.5,319.60 381.0,319.60 381.5,319.60 382.0,319.60 382.5,319.60 383.0,319.60 383.5,319.60 384.0,319.60 384.5,319.60 385.0,319.60 385.5,319.60 386.0,319.60 386.5,319.60 387.0,319.60 387.5,319.60 388.0,319.60 388.5,319.60 389.0,319.60 389.5,319.60 390.0,319.60 390.5,319.60 391.0,319.60 391.5,319.60 392.0,319.60 392.5,319.60 393.0,319.60 393.5,319.60 394.0,319.60 394.5,319.60 395.0,319.60 395.5,319.60 396.0,319.60 396.5,319.60 397.0,319.60 397.5,319.60 398.0,319.60 398.5,319.60 399.0,319.60 399.5,319.60 400.0,319.60 400.5,319.60 401.0,319.60 401.5,319.60 402.0,319.60 402.5,319.60 403.0,319.60 403.5,319.60 404.0,319.60 404.5,319.60 405.0,319.60 405.5,319.60 406.0,319.60 406.5,319.60 407.0,319.60 407.5,319.60 408.0,319.60 408.5,319.60 409.0,319.60 409.5,319.60 410.0,319.60 410.5,319.60 411.0,319.60 411.5,319.60 412.0,319.60 412.5,319.60 413.0,319.60 413.5,319.60 414.0,319.60 414.5,319.60 415.0,319.60 415.5,319.60 416.0,319.60 416.5,319.60 417.0,319.60 417.5,319.60 418.0,319.60 418.5,319.60 419.0,319.60 419.5,319.60 420.0,319.60 420.5,319.60 421.0,319.60 421.5,319.60 422.0,319.60 422.5,319.60 423.0,319.60 423.5,319.60 424.0,319.60 424.5,319.60 425.0,319.60 425.5,319.60 426.0,319.60 426.5,319.60 427.0,319.60 427.5,319.60 428.0,319.60 428.5,319.60 429.0,319.60 429.5,319.60 430.0,319.60 430.5,319.60 431.0,319.60 431.5,319.60 432.0,319.60 432.5,319.60 433.0,319.60 433.5,319.60 434.0,319.60 434.5,319.60 435.0,319.60 435.5,319.60 436.0,319.60 436.5,319.60 437.0,319.60 437.5,319.60 438.0,319.60 438.5,319.60 439.0,319.60 439.5,319.60 440.0,319.60 440.5,319.60 441.0,319.60 441.5,319.60 442.0,319.60 442.5,319.60 443.0,319.60 443.5,319.60 444.0,319.60 444.5,319.60 445.0,319.60 445.5,319.60 446.0,319.60 446.5,319.60 447.0,319.60 447.5,319.60 448.0,319.60 448.5,319.60 449.0,319.60 449.5,319.60 450.0,319.60 450.5,319.60 451.0,319.60 451.5,319.60 452.0,319.60 452.5,319.60 453.0,319.60 453.5,319.60 454.0,319.60 454.5,319.60 455.0,319.60 455.5,319.60 456.0,319.60 456.5,319.60 457.0,319.60 457.5,319.60 458.0,319.60 458.5,319.60 459.0,319.60 459.5,319.60 460.0,319.60 460.5,319.60 461.0,319.60 461.5,319.60 462.0,319.60 462.5,319.60 463.0,319.60 463.5,319.60 464.0,319.60 464.5,319.60 465.0,319.60 465.5,319.60 466.0,319.60 466.5,319.60 467.0,319.60 467.5,319.60 468.0,319.60 468.5,319.60 469.0,319.60 469.5,319.60 470.0,319.60 470.5,319.60 471.0,319.60 471.5,319.60 472.0,319.60 472.5,319.60 473.0,319.60 473.5,319.60 474.0,319.60 474.5,319.60 475.0,319.60 475.5,319.60 476.0,319.60 476.5,319.60 477.0,319.60 477.5,319.60 478.0,319.60 478.5,319.60 479.0,319.60 479.5,319.60 480.0,319.60 480.5,319.60 481.0,319.60 481.5,319.60 482.0,319.60 482.5,319.60 483.0,319.60 483.5,319.60 484.0,319.60 484.5,319.60 485.0,319.60 485.5,319.60 486.0,319.60 486.5,319.60 487.0,319.60 487.5,319.60 488.0,319.60 488.5,319.60 489.0,319.60 489.5,319.60 490.0,319.60 490.5,319.60 491.0,319.60 491.5,319.60 492.0,319.60 492.5,319.60 493.0,319.60 493.5,319.60 494.0,319.60 494.5,319.60 495.0,319.60 495.5,319.60 496.0,319.60 496.5,319.60 497.0,319.60 497.5,319.60 498.0,319.60 498.5,319.60 499.0,319.60 499.5,319.60 500.0,319.60 500.5,319.60 501.0,319.60 501.5,319.60 502.0,319.60 502.5,319.60 503.0,319.60 503.5,319.60 504.0,319.59 504.5,319.57 505.0,319.53 505.5,319.45 506.0,319.33 506.5,319.18 507.0,319.05 507.5,319.00 508.0,319.05 508.5,319.18 509.0,319.33 509.5,319.45 510.0,319.53 510.5,319.57 511.0,319.59 511.5,319.60 512.0,319.60 512.5,319.60 513.0,319.60 513.5,319.60 514.0,319.60 514.5,319.60 515.0,319.60 515.5,319.60 516.0,319.60 516.5,319.60 517.0,319.60 517.5,319.60 518.0,319.60 518.5,319.60 519.0,319.60 519.5,319.60 520.0,319.60 520.5,319.60 521.0,319.60 521.5,319.60 522.0,319.60 522.5,319.60 523.0,319.60 523.5,319.60 524.0,319.60 524.5,319.60 525.0,319.60 525.5,319.60 526.0,319.60 526.5,319.60 527.0,319.60 527.5,319.60 528.0,319.60 528.5,319.60 529.0,319.60 529.5,319.60 530.0,319.60 530.5,319.60 531.0,319.60 531.5,319.60 532.0,319.60 532.5,319.60 533.0,319.60 533.5,319.60 534.0,319.60 534.5,319.60 535.0,319.60 535.5,319.60 536.0,319.60 536.5,319.60 537.0,319.60 537.5,319.60 538.0,319.60 538.5,319.60 539.0,319.60 539.5,319.60 540.0,319.60 540.5,319.60 541.0,319.60 541.5,319.60 542.0,319.60 542.5,319.60 543.0,319.60 543.5,319.60 544.0,319.60 544.5,319.59 545.0,319.56 545.5,319.50 546.0,319.42 546.5,319.34 547.0,319.30 547.5,319.34 548.0,319.42 548.5,319.50 549.0,319.56 549.5,319.59 550.0,319.60 550.5,319.60 551.0,319.60 551.5,319.60 552.0,319.60 552.5,319.60 553.0,319.60 553.5,319.60 554.0,319.60 554.5,319.60 555.0,319.59 555.5,319.55 556.0,319.45 556.5,319.24 557.0,318.93 557.5,318.63 558.0,318.50 558.5,318.63 559.0,318.93 559.5,319.24 560.0,319.45 560.5,319.55 561.0,319.59 561.5,319.60 562.0,319.60 562.5,319.60 563.0,319.60 563.5,319.60 564.0,319.60 564.5,319.60 565.0,319.60 565.5,319.60 566.0,319.60 566.5,319.60 567.0,319.60 567.5,319.60 568.0,319.60 568.5,319.60 569.0,319.60 569.5,319.60 570.0,319.60 570.5,319.60 571.0,319.60 571.5,319.60 572.0,319.60 572.5,319.60 573.0,319.60 573.5,319.60 574.0,319.60 574.5,319.60 575.0,319.60 575.5,319.60 576.0,319.60 576.5,319.60 577.0,319.60 577.5,319.60 578.0,319.60 578.5,319.60 579.0,319.60 579.5,319.60 580.0,319.60 580.5,319.59 581.0,319.57 581.5,319.54 582.0,319.51 582.5,319.50 583.0,319.51 583.5,319.54 584.0,319.57 584.5,319.59 585.0,319.60 585.5,319.60 586.0,319.60 586.5,319.60 587.0,319.60 587.5,319.60 588.0,319.60 588.5,319.60 589.0,319.60 589.5,319.60 590.0,319.60 590.5,319.60 591.0,319.60 591.5,319.60 592.0,319.60 592.5,319.60 593.0,319.60 593.5,319.60 594.0,319.60 594.5,319.60 595.0,319.60 595.5,319.60 596.0,319.60 596.5,319.60 597.0,319.60 597.5,319.60 598.0,319.60 598.5,319.60 599.0,319.60 599.5,319.60 600.0,319.60 600.5,319.60 601.0,319.60 601.5,319.60 602.0,319.60 602.5,319.60 603.0,319.60 603.5,319.60 604.0,319.60 604.5,319.60 605.0,319.60 605.5,319.60 606.0,319.60 606.5,319.60 607.0,319.60 607.5,319.60 608.0,319.60 608.5,319.60 609.0,319.60 609.5,319.60 610.0,319.60 610.5,319.60 611.0,319.60 611.5,319.60 612.0,319.60 612.5,319.60 613.0,319.60 613.5,319.60 614.0,319.60 614.5,319.60 615.0,319.60 615.5,319.60 616.0,319.60 616.5,319.60 617.0,319.60 617.5,319.60 618.0,319.60 618.5,319.60 619.0,319.60 619.5,319.60 620.0,319.60 620.5,319.60 621.0,319.60 621.5,319.60 622.0,319.60 622.5,319.60 623.0,319.60 623.5,319.60 624.0,319.60 624.5,319.60 625.0,319.60 625.5,319.60 626.0,319.59 626.5,319.58 627.0,319.56 627.5,319.53 628.0,319.48 628.5,319.42 629.0,319.36 629.5,319.32 630.0,319.30 630.5,319.32 631.0,319.36 631.5,319.42 632.0,319.48 632.5,319.53 633.0,319.56 633.5,319.58 634.0,319.59 634.5,319.60 635.0,319.60 635.5,319.60 636.0,319.60 636.5,319.60 637.0,319.60 637.5,319.60 638.0,319.60 638.5,319.60 639.0,319.60 639.5,319.60 640.0,319.60 640.5,319.60 641.0,319.60 641.5,319.60 642.0,319.60 642.5,319.60 643.0,319.60 643.5,319.60 644.0,319.60 644.5,319.60 645.0,319.60 645.5,319.60 646.0,319.60 646.5,319.60 647.0,319.60 647.5,319.60 648.0,319.60 648.5,319.60 649.0,319.60 649.5,319.60 650.0,319.60 650.5,319.60 651.0,319.60 651.5,319.60 652.0,319.60 652.5,319.60 653.0,319.60 653.5,319.60 654.0,319.60 654.5,319.60 655.0,319.60 655.5,319.60 656.0,319.60 656.5,319.60 657.0,319.60 657.5,319.60 658.0,319.60 658.5,319.60 659.0,319.60 659.5,319.60 660.0,319.60 660.5,319.60 661.0,319.60 661.5,319.60 662.0,319.60 662.5,319.60 663.0,319.60 663.5,319.60 664.0,319.60 664.5,319.60 665.0,319.60 665.5,319.60 666.0,319.60 666.5,319.60 667.0,319.60 667.5,319.60 668.0,319.60 668.5,319.60 669.0,319.60 669.5,319.60 670.0,319.60 670.5,319.60" fill="none" stroke="#333" stroke-width="1.1" stroke-linejoin="round"/>
<text x="202.10" y="278.40" font-family='"Liberation Serif", serif' font-size="14" font-weight="bold" font-style="normal" fill="#111" text-anchor="start" >1</text>
<text x="227.20" y="280.80" font-family='"Liberation Serif", serif' font-size="14" font-weight="bold" font-style="normal" fill="#111" text-anchor="start" >2</text>
<text x="262.00" y="303.30" font-family='"Liberation Serif", serif' font-size="14" font-weight="normal" font-style="normal" fill="#111" text-anchor="start" >3</text>
<text x="269.80" y="310.30" font-family='"Liberation Serif", serif' font-size="14" font-weight="normal" font-style="normal" fill="#111" text-anchor="start" >4</text>
<text x="304.60" y="295.70" font-family='"Liberation Serif", serif' font-size="14" font-weight="normal" font-style="normal" fill="#111" text-anchor="start" >5</text>
<text x="350.30" y="313.80" font-family='"Liberation Serif", serif' font-size="14" font-weight="normal" font-style="normal" fill="#111" text-anchor="start" >6</text>
<text x="554.30" y="320.80" font-family='"Liberation Serif", serif' font-size="14" font-weight="normal" font-style="normal" fill="#111" text-anchor="start" >7</text>
<text x="622.90" y="291.00" font-family='"Liberation Serif", serif' font-size="19" font-weight="normal" font-style="normal" fill="#222" text-anchor="start" textLength="41.00" lengthAdjust="spacingAndGlyphs" >line1</text>
<path d="M59.30,324.20 H670.70 V384.40" fill="none" stroke="#777" stroke-width="1.5"/>
<line x1="62.30" y1="324.20" x2="62.30" y2="384.40" stroke="#444" stroke-width="1.3"/>
<line x1="59.70" y1="384.40" x2="62.30" y2="384.40" stroke="#666" stroke-width="0.9"/>
<line x1="59.70" y1="381.10" x2="62.30" y2="381.10" stroke="#666" stroke-width="0.9"/>
<line x1="59.70" y1="377.80" x2="62.30" y2="377.80" stroke="#666" stroke-width="0.9"/>
<line x1="59.70" y1="374.50" x2="62.30" y2="374.50" stroke="#666" stroke-width="0.9"/>
<line x1="59.70" y1="371.20" x2="62.30" y2="371.20" stroke="#666" stroke-width="0.9"/>
<line x1="59.70" y1="367.90" x2="62.30" y2="367.90" stroke="#666" stroke-width="0.9"/>
<line x1="59.70" y1="364.60" x2="62.30" y2="364.60" stroke="#666" stroke-width="0.9"/>
<line x1="59.70" y1="361.30" x2="62.30" y2="361.30" stroke="#666" stroke-width="0.9"/>
<line x1="59.70" y1="358.00" x2="62.30" y2="358.00" stroke="#666" stroke-width="0.9"/>
<line x1="59.70" y1="354.70" x2="62.30" y2="354.70" stroke="#666" stroke-width="0.9"/>
<line x1="59.70" y1="351.40" x2="62.30" y2="351.40" stroke="#666" stroke-width="0.9"/>
<line x1="59.70" y1="348.10" x2="62.30" y2="348.10" stroke="#666" stroke-width="0.9"/>
<line x1="59.70" y1="344.80" x2="62.30" y2="344.80" stroke="#666" stroke-width="0.9"/>
<line x1="59.70" y1="341.50" x2="62.30" y2="341.50" stroke="#666" stroke-width="0.9"/>
<line x1="59.70" y1="338.20" x2="62.30" y2="338.20" stroke="#666" stroke-width="0.9"/>
<line x1="59.70" y1="334.90" x2="62.30" y2="334.90" stroke="#666" stroke-width="0.9"/>
<line x1="59.70" y1="331.60" x2="62.30" y2="331.60" stroke="#666" stroke-width="0.9"/>
<line x1="59.70" y1="328.30" x2="62.30" y2="328.30" stroke="#666" stroke-width="0.9"/>
<line x1="59.70" y1="325.00" x2="62.30" y2="325.00" stroke="#666" stroke-width="0.9"/>
<line x1="59.30" y1="384.40" x2="670.70" y2="384.40" stroke="#222" stroke-width="2.0"/>
<text x="54.60" y="345.00" font-family='"Liberation Sans", sans-serif' font-size="10" font-weight="normal" font-style="normal" fill="#444" text-anchor="end" >2</text>
<text x="54.60" y="367.00" font-family='"Liberation Sans", sans-serif' font-size="10" font-weight="normal" font-style="normal" fill="#444" text-anchor="end" >1</text>
<text x="54.60" y="387.80" font-family='"Liberation Sans", sans-serif' font-size="10" font-weight="normal" font-style="normal" fill="#444" text-anchor="end" >0</text>
<polyline points="62.5,383.80 63.0,383.80 63.5,383.80 64.0,383.80 64.5,383.80 65.0,383.80 65.5,383.80 66.0,383.80 66.5,383.80 67.0,383.80 67.5,383.80 68.0,383.80 68.5,383.80 69.0,383.80 69.5,383.80 70.0,383.80 70.5,383.80 71.0,383.80 71.5,383.80 72.0,383.80 72.5,383.80 73.0,383.80 73.5,383.80 74.0,383.80 74.5,383.80 75.0,383.80 75.5,383.80 76.0,383.80 76.5,383.80 77.0,383.80 77.5,383.80 78.0,383.80 78.5,383.80 79.0,383.80 79.5,383.80 80.0,383.80 80.5,383.80 81.0,383.80 81.5,383.80 82.0,383.80 82.5,383.80 83.0,383.80 83.5,383.80 84.0,383.80 84.5,383.80 85.0,383.80 85.5,383.80 86.0,383.80 86.5,383.80 87.0,383.80 87.5,383.80 88.0,383.80 88.5,383.80 89.0,383.80 89.5,383.80 90.0,383.80 90.5,383.80 91.0,383.80 91.5,383.80 92.0,383.80 92.5,383.80 93.0,383.80 93.5,383.80 94.0,383.80 94.5,383.80 95.0,383.80 95.5,383.80 96.0,383.80 96.5,383.80 97.0,383.80 97.5,383.80 98.0,383.80 98.5,383.80 99.0,383.80 99.5,383.80 100.0,383.80 100.5,383.80 101.0,383.80 101.5,383.80 102.0,383.80 102.5,383.80 103.0,383.80 103.5,383.80 104.0,383.80 104.5,383.80 105.0,383.80 105.5,383.80 106.0,383.80 106.5,383.80 107.0,383.80 107.5,383.80 108.0,383.80 108.5,383.80 109.0,383.80 109.5,383.80 110.0,383.80 110.5,383.80 111.0,383.80 111.5,383.80 112.0,383.80 112.5,383.80 113.0,383.80 113.5,383.80 114.0,383.80 114.5,383.80 115.0,383.80 115.5,383.80 116.0,383.80 116.5,383.80 117.0,383.80 117.5,383.80 118.0,383.80 118.5,383.80 119.0,383.80 119.5,383.80 120.0,383.80 120.5,383.80 121.0,383.80 121.5,383.80 122.0,383.80 122.5,383.80 123.0,383.80 123.5,383.80 124.0,383.80 124.5,383.80 125.0,383.80 125.5,383.80 126.0,383.80 126.5,383.80 127.0,383.80 127.5,383.80 128.0,383.80 128.5,383.80 129.0,383.80 129.5,383.80 130.0,383.80 130.5,383.80 131.0,383.80 131.5,383.80 132.0,383.80 132.5,383.80 133.0,383.80 133.5,383.80 134.0,383.80 134.5,383.80 135.0,383.80 135.5,383.80 136.0,383.80 136.5,383.80 137.0,383.80 137.5,383.80 138.0,383.80 138.5,383.80 139.0,383.80 139.5,383.80 140.0,383.80 140.5,383.80 141.0,383.80 141.5,383.80 142.0,383.80 142.5,383.80 143.0,383.80 143.5,383.80 144.0,383.80 144.5,383.80 145.0,383.80 145.5,383.80 146.0,383.80 146.5,383.80 147.0,383.80 147.5,383.80 148.0,383.80 148.5,383.80 149.0,383.80 149.5,383.80 150.0,383.80 150.5,383.80 151.0,383.80 151.5,383.80 152.0,383.80 152.5,383.80 153.0,383.80 153.5,383.80 154.0,383.80 154.5,383.80 155.0,383.80 155.5,383.80 156.0,383.80 156.5,383.80 157.0,383.80 157.5,383.80 158.0,383.80 158.5,383.80 159.0,383.80 159.5,383.80 160.0,383.80 160.5,383.80 161.0,383.80 161.5,383.80 162.0,383.80 162.5,383.80 163.0,383.80 163.5,383.80 164.0,383.80 164.5,383.80 165.0,383.80 165.5,383.80 166.0,383.80 166.5,383.80 167.0,383.80 167.5,383.80 168.0,383.80 168.5,383.80 169.0,383.80 169.5,383.80 170.0,383.80 170.5,383.80 171.0,383.80 171.5,383.80 172.0,383.80 172.5,383.80 173.0,383.80 173.5,383.80 174.0,383.80 174.5,383.79 175.0,383.77 175.5,383.72 176.0,383.63 176.5,383.46 177.0,383.15 177.5,382.64 178.0,381.88 178.5,380.84 179.0,379.52 179.5,378.04 180.0,376.56 180.5,375.31 181.0,374.51 181.5,374.31 182.0,374.81 182.5,375.92 183.0,377.40 183.5,378.99 184.0,380.45 184.5,381.64 185.0,382.51 185.5,383.09 186.0,383.44 186.5,383.63 187.0,383.71 187.5,383.73 188.0,383.68 188.5,383.51 189.0,383.13 189.5,382.46 190.0,381.42 190.5,380.07 191.0,378.66 191.5,377.53 192.0,377.00 192.5,377.17 193.0,377.84 193.5,378.62 194.0,379.16 194.5,379.34 195.0,379.28 195.5,379.25 196.0,379.47 196.5,380.03 197.0,380.84 197.5,381.70 198.0,382.47 198.5,383.04 199.0,383.40 199.5,383.58 200.0,383.57 200.5,383.31 201.0,382.58 201.5,380.99 202.0,378.01 202.5,373.18 203.0,366.51 203.5,358.79 204.0,351.68 204.5,347.14 205.0,346.55 205.5,349.55 206.0,355.16 206.5,361.95 207.0,368.53 207.5,373.91 208.0,377.73 208.5,380.14 209.0,381.50 209.5,382.21 210.0,382.58 210.5,382.81 211.0,382.97 211.5,383.12 212.0,383.26 212.5,383.38 213.0,383.49 213.5,383.58 214.0,383.65 214.5,383.70 215.0,383.74 215.5,383.76 216.0,383.78 216.5,383.79 217.0,383.79 217.5,383.80 218.0,383.80 218.5,383.80 219.0,383.80 219.5,383.80 220.0,383.80 220.5,383.80 221.0,383.80 221.5,383.80 222.0,383.80 222.5,383.80 223.0,383.80 223.5,383.80 224.0,383.80 224.5,383.80 225.0,383.79 225.5,383.76 226.0,383.66 226.5,383.38 227.0,382.72 227.5,381.33 228.0,378.82 228.5,374.96 229.0,369.97 229.5,364.76 230.0,360.70 230.5,359.10 231.0,360.01 231.5,362.70 232.0,366.51 232.5,370.64 233.0,374.39 233.5,377.35 234.0,379.42 234.5,380.73 235.0,381.50 235.5,381.94 236.0,382.22 236.5,382.44 237.0,382.65 237.5,382.85 238.0,383.04 238.5,383.21 239.0,383.36 239.5,383.48 240.0,383.57 240.5,383.62 241.0,383.63 241.5,383.58 242.0,383.45 242.5,383.23 243.0,382.89 243.5,382.44 244.0,381.91 244.5,381.36 245.0,380.89 245.5,380.58 246.0,380.51 246.5,380.68 247.0,381.06 247.5,381.58 248.0,382.13 248.5,382.64 249.0,383.05 249.5,383.35 250.0,383.55 250.5,383.66 251.0,383.70 251.5,383.68 252.0,383.59 252.5,383.41 253.0,383.13 253.5,382.71 254.0,382.16 254.5,381.51 255.0,380.84 255.5,380.27 256.0,379.90 256.5,379.81 257.0,380.02 257.5,380.48 258.0,381.11 258.5,381.77 259.0,382.39 259.5,382.89 260.0,383.26 260.5,383.50 261.0,383.64 261.5,383.70 262.0,383.68 262.5,383.52 263.0,383.11 263.5,382.29 264.0,380.95 264.5,379.15 265.0,377.27 265.5,375.88 266.0,375.52 266.5,376.34 267.0,378.00 267.5,379.91 268.0,381.55 268.5,382.67 269.0,383.31 269.5,383.59 270.0,383.65 270.5,383.54 271.0,383.23 271.5,382.66 272.0,381.83 272.5,380.86 273.0,380.02 273.5,379.61 274.0,379.79 274.5,380.49 275.0,381.45 275.5,382.36 276.0,383.04 276.5,383.45 277.0,383.66 277.5,383.75 278.0,383.78 278.5,383.78 279.0,383.75 279.5,383.70 280.0,383.61 280.5,383.45 281.0,383.20 281.5,382.85 282.0,382.39 282.5,381.85 283.0,381.27 283.5,380.76 284.0,380.38 284.5,380.20 285.0,380.28 285.5,380.58 286.0,381.06 286.5,381.62 287.0,382.18 287.5,382.68 288.0,383.07 288.5,383.36 289.0,383.55 289.5,383.67 290.0,383.74 290.5,383.77 291.0,383.79 291.5,383.80 292.0,383.80 292.5,383.80 293.0,383.80 293.5,383.80 294.0,383.80 294.5,383.80 295.0,383.80 295.5,383.80 296.0,383.80 296.5,383.80 297.0,383.80 297.5,383.80 298.0,383.80 298.5,383.80 299.0,383.80 299.5,383.79 300.0,383.75 300.5,383.58 301.0,383.07 301.5,381.97 302.0,380.20 302.5,378.29 303.0,377.23 303.5,377.70 304.0,379.37 304.5,381.23 305.0,382.49 305.5,382.90 306.0,382.58 306.5,381.59 307.0,379.90 307.5,377.41 308.0,374.21 308.5,370.59 309.0,367.11 309.5,364.46 310.0,363.24 310.5,363.55 311.0,364.96 311.5,367.20 312.0,369.94 312.5,372.79 313.0,375.43 313.5,377.63 314.0,379.29 314.5,380.41 315.0,381.08 315.5,381.41 316.0,381.52 316.5,381.52 317.0,381.49 317.5,381.50 318.0,381.57 318.5,381.71 319.0,381.91 319.5,382.16 320.0,382.43 320.5,382.70 321.0,382.95 321.5,383.17 322.0,383.35 322.5,383.49 323.0,383.60 323.5,383.67 324.0,383.72 324.5,383.76 325.0,383.77 325.5,383.79 326.0,383.79 326.5,383.80 327.0,383.80 327.5,383.80 328.0,383.80 328.5,383.80 329.0,383.80 329.5,383.80 330.0,383.80 330.5,383.80 331.0,383.80 331.5,383.80 332.0,383.80 332.5,383.80 333.0,383.80 333.5,383.80 334.0,383.79 334.5,383.78 335.0,383.76 335.5,383.71 336.0,383.62 336.5,383.44 337.0,383.15 337.5,382.71 338.0,382.11 338.5,381.37 339.0,380.57 339.5,379.82 340.0,379.26 340.5,379.01 341.0,379.12 341.5,379.56 342.0,380.25 342.5,381.05 343.0,381.83 343.5,382.49 344.0,382.99 344.5,383.33 345.0,383.53 345.5,383.61 346.0,383.58 346.5,383.45 347.0,383.16 347.5,382.69 348.0,382.00 348.5,381.09 349.0,380.02 349.5,378.92 350.0,377.98 350.5,377.36 351.0,377.21 351.5,377.56 352.0,378.32 352.5,379.35 353.0,380.46 353.5,381.47 354.0,382.30 354.5,382.91 355.0,383.31 355.5,383.55 356.0,383.68 356.5,383.75 357.0,383.78 357.5,383.79 358.0,383.80 358.5,383.80 359.0,383.80 359.5,383.80 360.0,383.80 360.5,383.80 361.0,383.80 361.5,383.80 362.0,383.80 362.5,383.80 363.0,383.80 363.5,383.80 364.0,383.80 364.5,383.80 365.0,383.80 365.5,383.80 366.0,383.80 366.5,383.80 367.0,383.80 367.5,383.80 368.0,383.80 368.5,383.80 369.0,383.80 369.5,383.80 370.0,383.80 370.5,383.80 371.0,383.80 371.5,383.80 372.0,383.80 372.5,383.80 373.0,383.80 373.5,383.80 374.0,383.80 374.5,383.80 375.0,383.80 375.5,383.80 376.0,383.80 376.5,383.80 377.0,383.80 377.5,383.80 378.0,383.80 378.5,383.80 379.0,383.80 379.5,383.80 380.0,383.80 380.5,383.80 381.0,383.80 381.5,383.80 382.0,383.80 382.5,383.80 383.0,383.80 383.5,383.80 384.0,383.80 384.5,383.80 385.0,383.80 385.5,383.80 386.0,383.80 386.5,383.80 387.0,383.80 387.5,383.80 388.0,383.80 388.5,383.80 389.0,383.80 389.5,383.80 390.0,383.80 390.5,383.80 391.0,383.80 391.5,383.80 392.0,383.80 392.5,383.80 393.0,383.80 393.5,383.80 394.0,383.80 394.5,383.80 395.0,383.80 395.5,383.80 396.0,383.80 396.5,383.80 397.0,383.80 397.5,383.80 398.0,383.80 398.5,383.80 399.0,383.80 399.5,383.80 400.0,383.80 400.5,383.80 401.0,383.80 401.5,383.80 402.0,383.80 402.5,383.80 403.0,383.80 403.5,383.80 404.0,383.80 404.5,383.80 405.0,383.80 405.5,383.80 406.0,383.80 406.5,383.80 407.0,383.80 407.5,383.80 408.0,383.80 408.5,383.80 409.0,383.80 409.5,383.80 410.0,383.80 410.5,383.80 411.0,383.80 411.5,383.80 412.0,383.80 412.5,383.80 413.0,383.80 413.5,383.80 414.0,383.80 414.5,383.80 415.0,383.80 415.5,383.80 416.0,383.80 416.5,383.80 417.0,383.80 417.5,383.80 418.0,383.80 418.5,383.80 419.0,383.80 419.5,383.80 420.0,383.80 420.5,383.80 421.0,383.80 421.5,383.80 422.0,383.80 422.5,383.80 423.0,383.80 423.5,383.80 424.0,383.80 424.5,383.80 425.0,383.80 425.5,383.80 426.0,383.80 426.5,383.80 427.0,383.80 427.5,383.80 428.0,383.80 428.5,383.80 429.0,383.80 429.5,383.80 430.0,383.80 430.5,383.80 431.0,383.80 431.5,383.80 432.0,383.80 432.5,383.80 433.0,383.80 433.5,383.80 434.0,383.80 434.5,383.80 435.0,383.80 435.5,383.80 436.0,383.80 436.5,383.80 437.0,383.80 437.5,383.80 438.0,383.80 438.5,383.80 439.0,383.80 439.5,383.80 440.0,383.80 440.5,383.80 441.0,383.80 441.5,383.80 442.0,383.80 442.5,383.80 443.0,383.80 443.5,383.80 444.0,383.80 444.5,383.80 445.0,383.80 445.5,383.80 446.0,383.80 446.5,383.80 447.0,383.80 447.5,383.80 448.0,383.80 448.5,383.80 449.0,383.80 449.5,383.80 450.0,383.80 450.5,383.80 451.0,383.80 451.5,383.80 452.0,383.80 452.5,383.80 453.0,383.80 453.5,383.80 454.0,383.80 454.5,383.80 455.0,383.80 455.5,383.80 456.0,383.80 456.5,383.80 457.0,383.80 457.5,383.80 458.0,383.80 458.5,383.80 459.0,383.80 459.5,383.80 460.0,383.80 460.5,383.80 461.0,383.80 461.5,383.80 462.0,383.80 462.5,383.80 463.0,383.80 463.5,383.80 464.0,383.80 464.5,383.80 465.0,383.80 465.5,383.80 466.0,383.80 466.5,383.80 467.0,383.80 467.5,383.80 468.0,383.80 468.5,383.80 469.0,383.80 469.5,383.80 470.0,383.80 470.5,383.80 471.0,383.80 471.5,383.80 472.0,383.80 472.5,383.80 473.0,383.80 473.5,383.80 474.0,383.80 474.5,383.80 475.0,383.80 475.5,383.80 476.0,383.80 476.5,383.80 477.0,383.80 477.5,383.80 478.0,383.80 478.5,383.80 479.0,383.80 479.5,383.80 480.0,383.80 480.5,383.80 481.0,383.80 481.5,383.80 482.0,383.80 482.5,383.80 483.0,383.80 483.5,383.80 484.0,383.80 484.5,383.80 485.0,383.80 485.5,383.80 486.0,383.80 486.5,383.80 487.0,383.80 487.5,383.80 488.0,383.80 488.5,383.80 489.0,383.80 489.5,383.80 490.0,383.80 490.5,383.80 491.0,383.80 491.5,383.80 492.0,383.80 492.5,383.80 493.0,383.80 493.5,383.80 494.0,383.80 494.5,383.80 495.0,383.80 495.5,383.80 496.0,383.80 496.5,383.80 497.0,383.80 497.5,383.80 498.0,383.80 498.5,383.80 499.0,383.80 499.5,383.80 500.0,383.80 500.5,383.80 501.0,383.80 501.5,383.80 502.0,383.80 502.5,383.80 503.0,383.80 503.5,383.80 504.0,383.79 504.5,383.77 505.0,383.73 505.5,383.65 506.0,383.53 506.5,383.38 507.0,383.25 507.5,383.20 508.0,383.25 508.5,383.38 509.0,383.53 509.5,383.65 510.0,383.73 510.5,383.77 511.0,383.79 511.5,383.80 512.0,383.80 512.5,383.80 513.0,383.80 513.5,383.80 514.0,383.80 514.5,383.80 515.0,383.80 515.5,383.80 516.0,383.80 516.5,383.80 517.0,383.80 517.5,383.80 518.0,383.80 518.5,383.80 519.0,383.80 519.5,383.80 520.0,383.80 520.5,383.80 521.0,383.80 521.5,383.80 522.0,383.80 522.5,383.80 523.0,383.80 523.5,383.80 524.0,383.80 524.5,383.80 525.0,383.80 525.5,383.80 526.0,383.80 526.5,383.80 527.0,383.80 527.5,383.80 528.0,383.80 528.5,383.80 529.0,383.80 529.5,383.80 530.0,383.80 530.5,383.80 531.0,383.80 531.5,383.80 532.0,383.80 532.5,383.80 533.0,383.80 533.5,383.80 534.0,383.80 534.5,383.80 535.0,383.80 535.5,383.80 536.0,383.80 536.5,383.80 537.0,383.80 537.5,383.80 538.0,383.80 538.5,383.80 539.0,383.80 539.5,383.80 540.0,383.80 540.5,383.80 541.0,383.80 541.5,383.80 542.0,383.80 542.5,383.80 543.0,383.80 543.5,383.80 544.0,383.79 544.5,383.78 545.0,383.73 545.5,383.64 546.0,383.50 546.5,383.36 547.0,383.30 547.5,383.36 548.0,383.50 548.5,383.64 549.0,383.73 549.5,383.78 550.0,383.79 550.5,383.80 551.0,383.80 551.5,383.80 552.0,383.80 552.5,383.80 553.0,383.80 553.5,383.80 554.0,383.80 554.5,383.80 555.0,383.79 555.5,383.74 556.0,383.62 556.5,383.38 557.0,383.01 557.5,382.65 558.0,382.50 558.5,382.65 559.0,383.01 559.5,383.38 560.0,383.62 560.5,383.74 561.0,383.79 561.5,383.80 562.0,383.80 562.5,383.80 563.0,383.80 563.5,383.80 564.0,383.80 564.5,383.80 565.0,383.80 565.5,383.80 566.0,383.80 566.5,383.80 567.0,383.80 567.5,383.80 568.0,383.80 568.5,383.80 569.0,383.80 569.5,383.80 570.0,383.80 570.5,383.80 571.0,383.80 571.5,383.80 572.0,383.80 572.5,383.80 573.0,383.80 573.5,383.80 574.0,383.80 574.5,383.80 575.0,383.80 575.5,383.80 576.0,383.80 576.5,383.80 577.0,383.80 577.5,383.80 578.0,383.80 578.5,383.80 579.0,383.80 579.5,383.80 580.0,383.79 580.5,383.76 581.0,383.70 581.5,383.62 582.0,383.54 582.5,383.50 583.0,383.54 583.5,383.62 584.0,383.70 584.5,383.76 585.0,383.79 585.5,383.80 586.0,383.80 586.5,383.80 587.0,383.80 587.5,383.80 588.0,383.80 588.5,383.80 589.0,383.80 589.5,383.80 590.0,383.80 590.5,383.80 591.0,383.80 591.5,383.80 592.0,383.80 592.5,383.80 593.0,383.80 593.5,383.80 594.0,383.80 594.5,383.80 595.0,383.80 595.5,383.80 596.0,383.80 596.5,383.80 597.0,383.80 597.5,383.80 598.0,383.80 598.5,383.80 599.0,383.80 599.5,383.80 600.0,383.80 600.5,383.80 601.0,383.80 601.5,383.80 602.0,383.80 602.5,383.80 603.0,383.80 603.5,383.80 604.0,383.80 604.5,383.80 605.0,383.80 605.5,383.80 606.0,383.80 606.5,383.80 607.0,383.80 607.5,383.80 608.0,383.80 608.5,383.80 609.0,383.80 609.5,383.80 610.0,383.80 610.5,383.80 611.0,383.80 611.5,383.80 612.0,383.80 612.5,383.80 613.0,383.80 613.5,383.80 614.0,383.80 614.5,383.80 615.0,383.80 615.5,383.80 616.0,383.80 616.5,383.80 617.0,383.80 617.5,383.80 618.0,383.80 618.5,383.80 619.0,383.80 619.5,383.80 620.0,383.80 620.5,383.80 621.0,383.80 621.5,383.80 622.0,383.80 622.5,383.80 623.0,383.80 623.5,383.80 624.0,383.80 624.5,383.80 625.0,383.80 625.5,383.79 626.0,383.77 626.5,383.73 627.0,383.66 627.5,383.55 628.0,383.39 628.5,383.19 629.0,383.00 629.5,382.85 630.0,382.80 630.5,382.85 631.0,383.00 631.5,383.19 632.0,383.39 632.5,383.55 633.0,383.66 633.5,383.73 634.0,383.77 634.5,383.79 635.0,383.80 635.5,383.80 636.0,383.80 636.5,383.80 637.0,383.80 637.5,383.80 638.0,383.80 638.5,383.80 639.0,383.80 639.5,383.80 640.0,383.80 640.5,383.80 641.0,383.80 641.5,383.80 642.0,383.80 642.5,383.80 643.0,383.80 643.5,383.80 644.0,383.80 644.5,383.80 645.0,383.80 645.5,383.80 646.0,383.80 646.5,383.80 647.0,383.80 647.5,383.80 648.0,383.80 648.5,383.80 649.0,383.80 649.5,383.80 650.0,383.80 650.5,383.80 651.0,383.80 651.5,383.80 652.0,383.80 652.5,383.80 653.0,383.80 653.5,383.80 654.0,383.80 654.5,383.80 655.0,383.80 655.5,383.80 656.0,383.80 656.5,383.80 657.0,383.80 657.5,383.80 658.0,383.80 658.5,383.80 659.0,383.80 659.5,383.80 660.0,383.80 660.5,383.80 661.0,383.80 661.5,383.80 662.0,383.80 662.5,383.80 663.0,383.80 663.5,383.80 664.0,383.80 664.5,383.80 665.0,383.80 665.5,383.80 666.0,383.80 666.5,383.80 667.0,383.80 667.5,383.80 668.0,383.80 668.5,383.80 669.0,383.80 669.5,383.80 670.0,383.80 670.5,383.80" fill="none" stroke="#333" stroke-width="1.1" stroke-linejoin="round"/>
<text x="208.00" y="351.00" font-family='"Liberation Serif", serif' font-size="14" font-weight="bold" font-style="normal" fill="#111" text-anchor="start" >1</text>
<text x="227.50" y="355.30" font-family='"Liberation Serif", serif' font-size="14" font-weight="bold" font-style="normal" fill="#111" text-anchor="start" >2</text>
<text x="262.00" y="370.50" font-family='"Liberation Serif", serif' font-size="14" font-weight="normal" font-style="normal" fill="#111" text-anchor="start" >3</text>
<text x="269.80" y="377.80" font-family='"Liberation Serif", serif' font-size="14" font-weight="normal" font-style="normal" fill="#111" text-anchor="start" >4</text>
<text x="304.80" y="362.60" font-family='"Liberation Serif", serif' font-size="14" font-weight="normal" font-style="normal" fill="#111" text-anchor="start" >5</text>
<text x="348.00" y="377.00" font-family='"Liberation Serif", serif' font-size="14" font-weight="normal" font-style="normal" fill="#111" text-anchor="start" >6</text>
<text x="555.40" y="384.30" font-family='"Liberation Serif", serif' font-size="14" font-weight="normal" font-style="normal" fill="#111" text-anchor="start" >7</text>
<text x="622.90" y="351.10" font-family='"Liberation Serif", serif' font-size="19" font-weight="normal" font-style="normal" fill="#222" text-anchor="start" textLength="41.60" lengthAdjust="spacingAndGlyphs" >line2</text>
<path d="M59.30,388.10 H670.70 V448.80" fill="none" stroke="#777" stroke-width="1.5"/>
<line x1="62.30" y1="388.10" x2="62.30" y2="448.80" stroke="#444" stroke-width="1.3"/>
<line x1="59.70" y1="448.80" x2="62.30" y2="448.80" stroke="#666" stroke-width="0.9"/>
<line x1="59.70" y1="445.50" x2="62.30" y2="445.50" stroke="#666" stroke-width="0.9"/>
<line x1="59.70" y1="442.20" x2="62.30" y2="442.20" stroke="#666" stroke-width="0.9"/>
<line x1="59.70" y1="438.90" x2="62.30" y2="438.90" stroke="#666" stroke-width="0.9"/>
<line x1="59.70" y1="435.60" x2="62.30" y2="435.60" stroke="#666" stroke-width="0.9"/>
<line x1="59.70" y1="432.30" x2="62.30" y2="432.30" stroke="#666" stroke-width="0.9"/>
<line x1="59.70" y1="429.00" x2="62.30" y2="429.00" stroke="#666" stroke-width="0.9"/>
<line x1="59.70" y1="425.70" x2="62.30" y2="425.70" stroke="#666" stroke-width="0.9"/>
<line x1="59.70" y1="422.40" x2="62.30" y2="422.40" stroke="#666" stroke-width="0.9"/>
<line x1="59.70" y1="419.10" x2="62.30" y2="419.10" stroke="#666" stroke-width="0.9"/>
<line x1="59.70" y1="415.80" x2="62.30" y2="415.80" stroke="#666" stroke-width="0.9"/>
<line x1="59.70" y1="412.50" x2="62.30" y2="412.50" stroke="#666" stroke-width="0.9"/>
<line x1="59.70" y1="409.20" x2="62.30" y2="409.20" stroke="#666" stroke-width="0.9"/>
<line x1="59.70" y1="405.90" x2="62.30" y2="405.90" stroke="#666" stroke-width="0.9"/>
<line x1="59.70" y1="402.60" x2="62.30" y2="402.60" stroke="#666" stroke-width="0.9"/>
<line x1="59.70" y1="399.30" x2="62.30" y2="399.30" stroke="#666" stroke-width="0.9"/>
<line x1="59.70" y1="396.00" x2="62.30" y2="396.00" stroke="#666" stroke-width="0.9"/>
<line x1="59.70" y1="392.70" x2="62.30" y2="392.70" stroke="#666" stroke-width="0.9"/>
<line x1="59.70" y1="389.40" x2="62.30" y2="389.40" stroke="#666" stroke-width="0.9"/>
<line x1="59.30" y1="448.80" x2="670.70" y2="448.80" stroke="#222" stroke-width="2.0"/>
<text x="54.60" y="397.90" font-family='"Liberation Sans", sans-serif' font-size="10" font-weight="normal" font-style="normal" fill="#444" text-anchor="end" >4</text>
<text x="54.60" y="412.40" font-family='"Liberation Sans", sans-serif' font-size="10" font-weight="normal" font-style="normal" fill="#444" text-anchor="end" >2</text>
<text x="54.60" y="433.20" font-family='"Liberation Sans", sans-serif' font-size="10" font-weight="normal" font-style="normal" fill="#444" text-anchor="end" >1</text>
<text x="54.60" y="453.00" font-family='"Liberation Sans", sans-serif' font-size="10" font-weight="normal" font-style="normal" fill="#444" text-anchor="end" >0</text>
<polyline points="62.5,448.20 63.0,448.20 63.5,448.20 64.0,448.20 64.5,448.20 65.0,448.20 65.5,448.20 66.0,448.20 66.5,448.20 67.0,448.20 67.5,448.20 68.0,448.20 68.5,448.20 69.0,448.20 69.5,448.20 70.0,448.20 70.5,448.20 71.0,448.20 71.5,448.20 72.0,448.20 72.5,448.20 73.0,448.20 73.5,448.20 74.0,448.20 74.5,448.20 75.0,448.20 75.5,448.20 76.0,448.20 76.5,448.20 77.0,448.20 77.5,448.20 78.0,448.20 78.5,448.20 79.0,448.20 79.5,448.20 80.0,448.20 80.5,448.20 81.0,448.20 81.5,448.20 82.0,448.20 82.5,448.20 83.0,448.20 83.5,448.20 84.0,448.20 84.5,448.20 85.0,448.20 85.5,448.20 86.0,448.20 86.5,448.20 87.0,448.20 87.5,448.20 88.0,448.20 88.5,448.20 89.0,448.20 89.5,448.20 90.0,448.20 90.5,448.20 91.0,448.20 91.5,448.20 92.0,448.20 92.5,448.20 93.0,448.20 93.5,448.20 94.0,448.20 94.5,448.20 95.0,448.20 95.5,448.20 96.0,448.20 96.5,448.20 97.0,448.20 97.5,448.20 98.0,448.20 98.5,448.20 99.0,448.20 99.5,448.20 100.0,448.20 100.5,448.20 101.0,448.20 101.5,448.20 102.0,448.20 102.5,448.20 103.0,448.20 103.5,448.20 104.0,448.20 104.5,448.20 105.0,448.20 105.5,448.20 106.0,448.20 106.5,448.20 107.0,448.20 107.5,448.20 108.0,448.20 108.5,448.20 109.0,448.20 109.5,448.20 110.0,448.20 110.5,448.20 111.0,448.20 111.5,448.20 112.0,448.20 112.5,448.20 113.0,448.20 113.5,448.20 114.0,448.20 114.5,448.20 115.0,448.20 115.5,448.20 116.0,448.20 116.5,448.20 117.0,448.20 117.5,448.20 118.0,448.20 118.5,448.20 119.0,448.20 119.5,448.20 120.0,448.20 120.5,448.20 121.0,448.20 121.5,448.20 122.0,448.20 122.5,448.20 123.0,448.20 123.5,448.20 124.0,448.20 124.5,448.20 125.0,448.20 125.5,448.20 126.0,448.20 126.5,448.20 127.0,448.20 127.5,448.20 128.0,448.20 128.5,448.20 129.0,448.20 129.5,448.20 130.0,448.20 130.5,448.20 131.0,448.20 131.5,448.20 132.0,448.20 132.5,448.20 133.0,448.20 133.5,448.20 134.0,448.20 134.5,448.20 135.0,448.20 135.5,448.20 136.0,448.20 136.5,448.20 137.0,448.20 137.5,448.20 138.0,448.20 138.5,448.20 139.0,448.20 139.5,448.20 140.0,448.20 140.5,448.20 141.0,448.20 141.5,448.20 142.0,448.20 142.5,448.20 143.0,448.20 143.5,448.20 144.0,448.20 144.5,448.20 145.0,448.20 145.5,448.20 146.0,448.20 146.5,448.20 147.0,448.20 147.5,448.20 148.0,448.20 148.5,448.20 149.0,448.20 149.5,448.20 150.0,448.20 150.5,448.20 151.0,448.20 151.5,448.20 152.0,448.20 152.5,448.20 153.0,448.20 153.5,448.20 154.0,448.20 154.5,448.20 155.0,448.20 155.5,448.20 156.0,448.20 156.5,448.20 157.0,448.20 157.5,448.20 158.0,448.20 158.5,448.20 159.0,448.20 159.5,448.20 160.0,448.20 160.5,448.20 161.0,448.20 161.5,448.20 162.0,448.20 162.5,448.20 163.0,448.20 163.5,448.20 164.0,448.20 164.5,448.20 165.0,448.20 165.5,448.20 166.0,448.20 166.5,448.20 167.0,448.20 167.5,448.20 168.0,448.20 168.5,448.20 169.0,448.20 169.5,448.20 170.0,448.20 170.5,448.20 171.0,448.20 171.5,448.20 172.0,448.20 172.5,448.20 173.0,448.20 173.5,448.20 174.0,448.19 174.5,448.17 175.0,448.14 175.5,448.06 176.0,447.91 176.5,447.64 177.0,447.18 177.5,446.46 178.0,445.43 178.5,444.08 179.0,442.50 179.5,440.83 180.0,439.32 180.5,438.21 181.0,437.71 181.5,437.96 182.0,438.93 182.5,440.44 183.0,442.18 183.5,443.88 184.0,445.33 184.5,446.44 185.0,447.20 185.5,447.67 186.0,447.94 186.5,448.07 187.0,448.11 187.5,448.06 188.0,447.87 188.5,447.44 189.0,446.63 189.5,445.34 190.0,443.61 190.5,441.71 191.0,440.07 191.5,439.17 192.0,439.20 192.5,439.98 193.0,441.07 193.5,441.98 194.0,442.50 194.5,442.73 195.0,442.94 195.5,443.37 196.0,444.12 196.5,445.07 197.0,446.04 197.5,446.86 198.0,447.45 198.5,447.81 199.0,447.96 199.5,447.89 200.0,447.48 200.5,446.46 201.0,444.36 201.5,440.65 202.0,435.00 202.5,427.69 203.0,419.91 203.5,413.52 204.0,410.42 204.5,411.33 205.0,415.49 205.5,421.72 206.0,428.55 206.5,434.68 207.0,439.40 207.5,442.57 208.0,444.47 208.5,445.50 209.0,446.05 209.5,446.37 210.0,446.62 210.5,446.85 211.0,447.08 211.5,447.30 212.0,447.51 212.5,447.69 213.0,447.83 213.5,447.95 214.0,448.04 214.5,448.10 215.0,448.14 215.5,448.16 216.0,448.18 216.5,448.19 217.0,448.19 217.5,448.20 218.0,448.20 218.5,448.20 219.0,448.20 219.5,448.20 220.0,448.20 220.5,448.20 221.0,448.20 221.5,448.20 222.0,448.20 222.5,448.20 223.0,448.20 223.5,448.20 224.0,448.19 224.5,448.18 225.0,448.11 225.5,447.93 226.0,447.44 226.5,446.33 227.0,444.12 227.5,440.39 228.0,435.02 228.5,428.62 229.0,422.58 229.5,418.65 230.0,418.05 230.5,420.12 231.0,424.09 231.5,429.04 232.0,434.00 232.5,438.23 233.0,441.40 233.5,443.51 234.0,444.78 234.5,445.50 235.0,445.92 235.5,446.20 236.0,446.45 236.5,446.70 237.0,446.96 237.5,447.20 238.0,447.43 238.5,447.63 239.0,447.79 239.5,447.92 240.0,448.00 240.5,448.05 241.0,448.05 241.5,447.99 242.0,447.85 242.5,447.59 243.0,447.20 243.5,446.65 244.0,445.97 244.5,445.24 245.0,444.55 245.5,444.04 246.0,443.81 246.5,443.91 247.0,444.32 247.5,444.95 248.0,445.68 248.5,446.39 249.0,447.00 249.5,447.45 250.0,447.76 250.5,447.93 251.0,447.99 251.5,447.94 252.0,447.76 252.5,447.45 253.0,446.98 253.5,446.33 254.0,445.56 254.5,444.74 255.0,444.00 255.5,443.49 256.0,443.30 256.5,443.49 257.0,444.00 257.5,444.74 258.0,445.56 258.5,446.33 259.0,446.98 259.5,447.46 260.0,447.77 260.5,447.94 261.0,447.95 261.5,447.75 262.0,447.18 262.5,446.06 263.0,444.29 263.5,442.01 264.0,439.76 264.5,438.27 265.0,438.12 265.5,439.38 266.0,441.54 266.5,443.86 267.0,445.76 267.5,447.02 268.0,447.70 268.5,448.01 269.0,448.11 269.5,448.09 270.0,447.95 270.5,447.65 271.0,447.13 271.5,446.40 272.0,445.60 272.5,444.95 273.0,444.70 273.5,444.95 274.0,445.60 274.5,446.40 275.0,447.13 275.5,447.65 276.0,447.96 276.5,448.11 277.0,448.17 277.5,448.18 278.0,448.18 278.5,448.16 279.0,448.12 279.5,448.03 280.0,447.89 280.5,447.64 281.0,447.27 281.5,446.76 282.0,446.13 282.5,445.41 283.0,444.69 283.5,444.09 284.0,443.70 284.5,443.61 285.0,443.82 285.5,444.31 286.0,444.97 286.5,445.70 287.0,446.40 287.5,446.98 288.0,447.44 288.5,447.75 289.0,447.95 289.5,448.07 290.0,448.14 290.5,448.17 291.0,448.19 291.5,448.20 292.0,448.20 292.5,448.20 293.0,448.20 293.5,448.20 294.0,448.20 294.5,448.20 295.0,448.20 295.5,448.20 296.0,448.20 296.5,448.20 297.0,448.20 297.5,448.19 298.0,448.15 298.5,447.99 299.0,447.44 299.5,446.08 300.0,443.60 300.5,440.43 301.0,437.97 301.5,437.71 302.0,439.82 302.5,442.99 303.0,445.66 303.5,447.20 304.0,447.80 304.5,447.84 305.0,447.51 305.5,446.78 306.0,445.48 306.5,443.43 307.0,440.52 307.5,436.86 308.0,432.85 308.5,429.13 309.0,426.48 309.5,425.50 310.0,426.16 310.5,428.06 311.0,430.87 311.5,434.10 312.0,437.31 312.5,440.11 313.0,442.31 313.5,443.84 314.0,444.79 314.5,445.28 315.0,445.47 315.5,445.50 316.0,445.49 316.5,445.50 317.0,445.58 317.5,445.75 318.0,445.98 318.5,446.27 319.0,446.59 319.5,446.91 320.0,447.21 320.5,447.46 321.0,447.68 321.5,447.84 322.0,447.96 322.5,448.05 323.0,448.11 323.5,448.15 324.0,448.17 324.5,448.18 325.0,448.19 325.5,448.20 326.0,448.20 326.5,448.20 327.0,448.20 327.5,448.20 328.0,448.20 328.5,448.20 329.0,448.20 329.5,448.20 330.0,448.20 330.5,448.20 331.0,448.20 331.5,448.20 332.0,448.20 332.5,448.20 333.0,448.20 333.5,448.20 334.0,448.20 334.5,448.19 335.0,448.19 335.5,448.17 336.0,448.13 336.5,448.05 337.0,447.90 337.5,447.67 338.0,447.33 338.5,446.87 339.0,446.31 339.5,445.73 340.0,445.20 340.5,444.83 341.0,444.70 341.5,444.83 342.0,445.20 342.5,445.73 343.0,446.31 343.5,446.86 344.0,447.31 344.5,447.63 345.0,447.82 345.5,447.85 346.0,447.74 346.5,447.45 347.0,446.94 347.5,446.20 348.0,445.24 348.5,444.14 349.0,443.04 349.5,442.13 350.0,441.59 350.5,441.54 351.0,441.99 351.5,442.84 352.0,443.91 352.5,445.03 353.0,446.02 353.5,446.82 354.0,447.39 354.5,447.76 355.0,447.98 355.5,448.10 356.0,448.16 356.5,448.18 357.0,448.19 357.5,448.20 358.0,448.20 358.5,448.20 359.0,448.20 359.5,448.20 360.0,448.20 360.5,448.20 361.0,448.20 361.5,448.20 362.0,448.20 362.5,448.20 363.0,448.20 363.5,448.20 364.0,448.20 364.5,448.20 365.0,448.20 365.5,448.20 366.0,448.20 366.5,448.20 367.0,448.20 367.5,448.20 368.0,448.20 368.5,448.20 369.0,448.20 369.5,448.20 370.0,448.20 370.5,448.20 371.0,448.20 371.5,448.20 372.0,448.20 372.5,448.20 373.0,448.20 373.5,448.20 374.0,448.20 374.5,448.20 375.0,448.20 375.5,448.20 376.0,448.20 376.5,448.20 377.0,448.20 377.5,448.20 378.0,448.20 378.5,448.20 379.0,448.20 379.5,448.20 380.0,448.20 380.5,448.20 381.0,448.20 381.5,448.20 382.0,448.20 382.5,448.20 383.0,448.20 383.5,448.20 384.0,448.20 384.5,448.20 385.0,448.20 385.5,448.20 386.0,448.20 386.5,448.20 387.0,448.20 387.5,448.20 388.0,448.20 388.5,448.20 389.0,448.20 389.5,448.20 390.0,448.20 390.5,448.20 391.0,448.20 391.5,448.20 392.0,448.20 392.5,448.20 393.0,448.20 393.5,448.20 394.0,448.20 394.5,448.20 395.0,448.20 395.5,448.20 396.0,448.20 396.5,448.20 397.0,448.20 397.5,448.20 398.0,448.20 398.5,448.20 399.0,448.20 399.5,448.20 400.0,448.20 400.5,448.20 401.0,448.20 401.5,448.20 402.0,448.20 402.5,448.20 403.0,448.20 403.5,448.20 404.0,448.20 404.5,448.20 405.0,448.20 405.5,448.20 406.0,448.20 406.5,448.20 407.0,448.20 407.5,448.20 408.0,448.20 408.5,448.20 409.0,448.20 409.5,448.20 410.0,448.20 410.5,448.20 411.0,448.20 411.5,448.20 412.0,448.20 412.5,448.20 413.0,448.20 413.5,448.20 414.0,448.20 414.5,448.20 415.0,448.20 415.5,448.20 416.0,448.20 416.5,448.20 417.0,448.20 417.5,448.20 418.0,448.20 418.5,448.20 419.0,448.20 419.5,448.20 420.0,448.20 420.5,448.20 421.0,448.20 421.5,448.20 422.0,448.20 422.5,448.20 423.0,448.20 423.5,448.20 424.0,448.20 424.5,448.20 425.0,448.20 425.5,448.20 426.0,448.20 426.5,448.20 427.0,448.20 427.5,448.20 428.0,448.20 428.5,448.20 429.0,448.20 429.5,448.20 430.0,448.20 430.5,448.20 431.0,448.20 431.5,448.20 432.0,448.20 432.5,448.20 433.0,448.20 433.5,448.20 434.0,448.20 434.5,448.20 435.0,448.20 435.5,448.20 436.0,448.20 436.5,448.20 437.0,448.20 437.5,448.20 438.0,448.20 438.5,448.20 439.0,448.20 439.5,448.20 440.0,448.20 440.5,448.20 441.0,448.20 441.5,448.20 442.0,448.20 442.5,448.20 443.0,448.20 443.5,448.20 444.0,448.20 444.5,448.20 445.0,448.20 445.5,448.20 446.0,448.20 446.5,448.20 447.0,448.20 447.5,448.20 448.0,448.20 448.5,448.20 449.0,448.20 449.5,448.20 450.0,448.20 450.5,448.20 451.0,448.20 451.5,448.20 452.0,448.20 452.5,448.20 453.0,448.20 453.5,448.20 454.0,448.20 454.5,448.20 455.0,448.20 455.5,448.20 456.0,448.20 456.5,448.20 457.0,448.20 457.5,448.20 458.0,448.20 458.5,448.20 459.0,448.20 459.5,448.20 460.0,448.20 460.5,448.20 461.0,448.20 461.5,448.20 462.0,448.20 462.5,448.20 463.0,448.20 463.5,448.20 464.0,448.20 464.5,448.20 465.0,448.20 465.5,448.20 466.0,448.20 466.5,448.20 467.0,448.20 467.5,448.20 468.0,448.20 468.5,448.20 469.0,448.20 469.5,448.20 470.0,448.20 470.5,448.20 471.0,448.20 471.5,448.20 472.0,448.20 472.5,448.20 473.0,448.20 473.5,448.20 474.0,448.20 474.5,448.20 475.0,448.20 475.5,448.20 476.0,448.20 476.5,448.20 477.0,448.20 477.5,448.20 478.0,448.20 478.5,448.20 479.0,448.20 479.5,448.20 480.0,448.20 480.5,448.20 481.0,448.20 481.5,448.20 482.0,448.20 482.5,448.20 483.0,448.20 483.5,448.20 484.0,448.20 484.5,448.20 485.0,448.20 485.5,448.20 486.0,448.20 486.5,448.20 487.0,448.20 487.5,448.20 488.0,448.20 488.5,448.20 489.0,448.20 489.5,448.20 490.0,448.20 490.5,448.20 491.0,448.20 491.5,448.20 492.0,448.20 492.5,448.20 493.0,448.20 493.5,448.20 494.0,448.20 494.5,448.20 495.0,448.20 495.5,448.20 496.0,448.20 496.5,448.20 497.0,448.20 497.5,448.20 498.0,448.20 498.5,448.20 499.0,448.20 499.5,448.20 500.0,448.20 500.5,448.20 501.0,448.20 501.5,448.20 502.0,448.20 502.5,448.20 503.0,448.19 503.5,448.18 504.0,448.14 504.5,448.04 505.0,447.86 505.5,447.59 506.0,447.29 506.5,447.06 507.0,447.00 507.5,447.14 508.0,447.41 508.5,447.71 509.0,447.94 509.5,448.09 510.0,448.16 510.5,448.19 511.0,448.20 511.5,448.20 512.0,448.20 512.5,448.20 513.0,448.20 513.5,448.20 514.0,448.20 514.5,448.20 515.0,448.20 515.5,448.20 516.0,448.20 516.5,448.20 517.0,448.20 517.5,448.20 518.0,448.20 518.5,448.20 519.0,448.20 519.5,448.20 520.0,448.20 520.5,448.20 521.0,448.20 521.5,448.20 522.0,448.20 522.5,448.20 523.0,448.20 523.5,448.20 524.0,448.20 524.5,448.20 525.0,448.20 525.5,448.20 526.0,448.20 526.5,448.20 527.0,448.20 527.5,448.20 528.0,448.20 528.5,448.20 529.0,448.20 529.5,448.20 530.0,448.20 530.5,448.20 531.0,448.20 531.5,448.20 532.0,448.20 532.5,448.20 533.0,448.20 533.5,448.20 534.0,448.20 534.5,448.20 535.0,448.20 535.5,448.20 536.0,448.20 536.5,448.20 537.0,448.20 537.5,448.20 538.0,448.20 538.5,448.20 539.0,448.20 539.5,448.20 540.0,448.20 540.5,448.20 541.0,448.20 541.5,448.20 542.0,448.20 542.5,448.20 543.0,448.20 543.5,448.20 544.0,448.19 544.5,448.16 545.0,448.08 545.5,447.91 546.0,447.65 546.5,447.41 547.0,447.30 547.5,447.41 548.0,447.65 548.5,447.91 549.0,448.08 549.5,448.16 550.0,448.19 550.5,448.20 551.0,448.20 551.5,448.20 552.0,448.20 552.5,448.20 553.0,448.20 553.5,448.20 554.0,448.19 554.5,448.16 555.0,448.05 555.5,447.74 556.0,447.10 556.5,446.14 557.0,445.20 557.5,444.80 558.0,445.20 558.5,446.14 559.0,447.10 559.5,447.74 560.0,448.05 560.5,448.16 561.0,448.19 561.5,448.20 562.0,448.20 562.5,448.20 563.0,448.20 563.5,448.20 564.0,448.20 564.5,448.20 565.0,448.20 565.5,448.20 566.0,448.20 566.5,448.20 567.0,448.20 567.5,448.20 568.0,448.20 568.5,448.20 569.0,448.20 569.5,448.20 570.0,448.20 570.5,448.20 571.0,448.20 571.5,448.20 572.0,448.20 572.5,448.20 573.0,448.20 573.5,448.20 574.0,448.20 574.5,448.20 575.0,448.20 575.5,448.20 576.0,448.20 576.5,448.20 577.0,448.20 577.5,448.20 578.0,448.20 578.5,448.20 579.0,448.20 579.5,448.19 580.0,448.17 580.5,448.12 581.0,448.01 581.5,447.84 582.0,447.67 582.5,447.60 583.0,447.67 583.5,447.84 584.0,448.01 584.5,448.12 585.0,448.17 585.5,448.19 586.0,448.20 586.5,448.20 587.0,448.20 587.5,448.20 588.0,448.20 588.5,448.20 589.0,448.20 589.5,448.20 590.0,448.20 590.5,448.20 591.0,448.20 591.5,448.20 592.0,448.20 592.5,448.20 593.0,448.20 593.5,448.20 594.0,448.20 594.5,448.20 595.0,448.20 595.5,448.20 596.0,448.20 596.5,448.20 597.0,448.20 597.5,448.20 598.0,448.20 598.5,448.20 599.0,448.20 599.5,448.20 600.0,448.20 600.5,448.20 601.0,448.20 601.5,448.20 602.0,448.20 602.5,448.20 603.0,448.20 603.5,448.20 604.0,448.20 604.5,448.20 605.0,448.20 605.5,448.20 606.0,448.20 606.5,448.20 607.0,448.20 607.5,448.20 608.0,448.20 608.5,448.20 609.0,448.20 609.5,448.20 610.0,448.20 610.5,448.20 611.0,448.20 611.5,448.20 612.0,448.20 612.5,448.20 613.0,448.20 613.5,448.20 614.0,448.20 614.5,448.20 615.0,448.20 615.5,448.20 616.0,448.20 616.5,448.20 617.0,448.20 617.5,448.20 618.0,448.20 618.5,448.20 619.0,448.20 619.5,448.20 620.0,448.20 620.5,448.20 621.0,448.20 621.5,448.20 622.0,448.20 622.5,448.20 623.0,448.20 623.5,448.20 624.0,448.20 624.5,448.20 625.0,448.20 625.5,448.19 626.0,448.18 626.5,448.15 627.0,448.11 627.5,448.03 628.0,447.91 628.5,447.78 629.0,447.64 629.5,447.54 630.0,447.50 630.5,447.54 631.0,447.64 631.5,447.78 632.0,447.91 632.5,448.03 633.0,448.11 633.5,448.15 634.0,448.18 634.5,448.19 635.0,448.20 635.5,448.20 636.0,448.20 636.5,448.20 637.0,448.20 637.5,448.20 638.0,448.20 638.5,448.20 639.0,448.20 639.5,448.20 640.0,448.20 640.5,448.20 641.0,448.20 641.5,448.20 642.0,448.20 642.5,448.20 643.0,448.20 643.5,448.20 644.0,448.20 644.5,448.20 645.0,448.20 645.5,448.20 646.0,448.20 646.5,448.20 647.0,448.20 647.5,448.20 648.0,448.20 648.5,448.20 649.0,448.20 649.5,448.20 650.0,448.20 650.5,448.20 651.0,448.20 651.5,448.20 652.0,448.20 652.5,448.20 653.0,448.20 653.5,448.20 654.0,448.20 654.5,448.20 655.0,448.20 655.5,448.20 656.0,448.20 656.5,448.20 657.0,448.20 657.5,448.20 658.0,448.20 658.5,448.20 659.0,448.20 659.5,448.20 660.0,448.20 660.5,448.20 661.0,448.20 661.5,448.20 662.0,448.20 662.5,448.20 663.0,448.20 663.5,448.20 664.0,448.20 664.5,448.20 665.0,448.20 665.5,448.20 666.0,448.20 666.5,448.20 667.0,448.20 667.5,448.20 668.0,448.20 668.5,448.20 669.0,448.20 669.5,448.20 670.0,448.20 670.5,448.20" fill="none" stroke="#333" stroke-width="1.1" stroke-linejoin="round"/>
<text x="208.00" y="415.00" font-family='"Liberation Serif", serif' font-size="14" font-weight="bold" font-style="normal" fill="#111" text-anchor="start" >1</text>
<text x="227.50" y="415.80" font-family='"Liberation Serif", serif' font-size="14" font-weight="bold" font-style="normal" fill="#111" text-anchor="start" >2</text>
<text x="262.20" y="437.70" font-family='"Liberation Serif", serif' font-size="14" font-weight="normal" font-style="normal" fill="#111" text-anchor="start" >3</text>
<text x="269.80" y="444.70" font-family='"Liberation Serif", serif' font-size="14" font-weight="normal" font-style="normal" fill="#111" text-anchor="start" >4</text>
<text x="304.80" y="422.80" font-family='"Liberation Serif", serif' font-size="14" font-weight="normal" font-style="normal" fill="#111" text-anchor="start" >5</text>
<text x="347.60" y="437.70" font-family='"Liberation Serif", serif' font-size="14" font-weight="normal" font-style="normal" fill="#111" text-anchor="start" >6</text>
<text x="554.50" y="446.30" font-family='"Liberation Serif", serif' font-size="14" font-weight="normal" font-style="normal" fill="#111" text-anchor="start" >7</text>
<text x="622.70" y="411.60" font-family='"Liberation Serif", serif' font-size="19" font-weight="normal" font-style="normal" fill="#222" text-anchor="start" textLength="41.60" lengthAdjust="spacingAndGlyphs" >line3</text>
<line x1="62.78" y1="448.80" x2="62.78" y2="451.30" stroke="#444" stroke-width="1.0"/>
<line x1="77.50" y1="448.80" x2="77.50" y2="452.80" stroke="#444" stroke-width="1.0"/>
<text x="76.30" y="463.30" font-family='"Liberation Sans", sans-serif' font-size="11.5" font-weight="normal" font-style="normal" fill="#444" text-anchor="middle" >3</text>
<line x1="92.22" y1="448.80" x2="92.22" y2="451.30" stroke="#444" stroke-width="1.0"/>
<line x1="106.94" y1="448.80" x2="106.94" y2="451.30" stroke="#444" stroke-width="1.0"/>
<line x1="121.67" y1="448.80" x2="121.67" y2="451.30" stroke="#444" stroke-width="1.0"/>
<line x1="136.39" y1="448.80" x2="136.39" y2="451.30" stroke="#444" stroke-width="1.0"/>
<line x1="151.11" y1="448.80" x2="151.11" y2="452.80" stroke="#444" stroke-width="1.0"/>
<text x="149.71" y="463.30" font-family='"Liberation Sans", sans-serif' font-size="11.5" font-weight="normal" font-style="normal" fill="#444" text-anchor="middle" >4</text>
<line x1="165.83" y1="448.80" x2="165.83" y2="451.30" stroke="#444" stroke-width="1.0"/>
<line x1="180.55" y1="448.80" x2="180.55" y2="451.30" stroke="#444" stroke-width="1.0"/>
<line x1="195.28" y1="448.80" x2="195.28" y2="451.30" stroke="#444" stroke-width="1.0"/>
<line x1="210.00" y1="448.80" x2="210.00" y2="451.30" stroke="#444" stroke-width="1.0"/>
<line x1="224.72" y1="448.80" x2="224.72" y2="452.80" stroke="#444" stroke-width="1.0"/>
<text x="223.22" y="463.30" font-family='"Liberation Sans", sans-serif' font-size="11.5" font-weight="normal" font-style="normal" fill="#444" text-anchor="middle" >5</text>
<line x1="239.44" y1="448.80" x2="239.44" y2="451.30" stroke="#444" stroke-width="1.0"/>
<line x1="254.16" y1="448.80" x2="254.16" y2="451.30" stroke="#444" stroke-width="1.0"/>
<line x1="268.89" y1="448.80" x2="268.89" y2="451.30" stroke="#444" stroke-width="1.0"/>
<line x1="283.61" y1="448.80" x2="283.61" y2="451.30" stroke="#444" stroke-width="1.0"/>
<line x1="298.33" y1="448.80" x2="298.33" y2="452.80" stroke="#444" stroke-width="1.0"/>
<text x="297.03" y="463.30" font-family='"Liberation Sans", sans-serif' font-size="11.5" font-weight="normal" font-style="normal" fill="#444" text-anchor="middle" >6</text>
<line x1="313.05" y1="448.80" x2="313.05" y2="451.30" stroke="#444" stroke-width="1.0"/>
<line x1="327.77" y1="448.80" x2="327.77" y2="451.30" stroke="#444" stroke-width="1.0"/>
<line x1="342.50" y1="448.80" x2="342.50" y2="451.30" stroke="#444" stroke-width="1.0"/>
<line x1="357.22" y1="448.80" x2="357.22" y2="451.30" stroke="#444" stroke-width="1.0"/>
<line x1="371.94" y1="448.80" x2="371.94" y2="452.80" stroke="#444" stroke-width="1.0"/>
<text x="371.34" y="463.30" font-family='"Liberation Sans", sans-serif' font-size="11.5" font-weight="normal" font-style="normal" fill="#444" text-anchor="middle" >7</text>
<line x1="386.66" y1="448.80" x2="386.66" y2="451.30" stroke="#444" stroke-width="1.0"/>
<line x1="401.38" y1="448.80" x2="401.38" y2="451.30" stroke="#444" stroke-width="1.0"/>
<line x1="416.11" y1="448.80" x2="416.11" y2="451.30" stroke="#444" stroke-width="1.0"/>
<line x1="430.83" y1="448.80" x2="430.83" y2="451.30" stroke="#444" stroke-width="1.0"/>
<line x1="445.55" y1="448.80" x2="445.55" y2="452.80" stroke="#444" stroke-width="1.0"/>
<text x="445.35" y="463.30" font-family='"Liberation Sans", sans-serif' font-size="11.5" font-weight="normal" font-style="normal" fill="#444" text-anchor="middle" >8</text>
<line x1="460.27" y1="448.80" x2="460.27" y2="451.30" stroke="#444" stroke-width="1.0"/>
<line x1="474.99" y1="448.80" x2="474.99" y2="451.30" stroke="#444" stroke-width="1.0"/>
<line x1="489.72" y1="448.80" x2="489.72" y2="451.30" stroke="#444" stroke-width="1.0"/>
<line x1="504.44" y1="448.80" x2="504.44" y2="451.30" stroke="#444" stroke-width="1.0"/>
<line x1="519.16" y1="448.80" x2="519.16" y2="452.80" stroke="#444" stroke-width="1.0"/>
<text x="518.66" y="463.30" font-family='"Liberation Sans", sans-serif' font-size="11.5" font-weight="normal" font-style="normal" fill="#444" text-anchor="middle" >9</text>
<line x1="533.88" y1="448.80" x2="533.88" y2="451.30" stroke="#444" stroke-width="1.0"/>
<line x1="548.60" y1="448.80" x2="548.60" y2="451.30" stroke="#444" stroke-width="1.0"/>
<line x1="563.33" y1="448.80" x2="563.33" y2="451.30" stroke="#444" stroke-width="1.0"/>
<line x1="578.05" y1="448.80" x2="578.05" y2="451.30" stroke="#444" stroke-width="1.0"/>
<line x1="592.77" y1="448.80" x2="592.77" y2="452.80" stroke="#444" stroke-width="1.0"/>
<text x="593.97" y="463.30" font-family='"Liberation Sans", sans-serif' font-size="11.5" font-weight="normal" font-style="normal" fill="#444" text-anchor="middle" >10</text>
<line x1="607.49" y1="448.80" x2="607.49" y2="451.30" stroke="#444" stroke-width="1.0"/>
<line x1="622.21" y1="448.80" x2="622.21" y2="451.30" stroke="#444" stroke-width="1.0"/>
<line x1="636.94" y1="448.80" x2="636.94" y2="451.30" stroke="#444" stroke-width="1.0"/>
<line x1="651.66" y1="448.80" x2="651.66" y2="451.30" stroke="#444" stroke-width="1.0"/>
<line x1="666.38" y1="448.80" x2="666.38" y2="452.80" stroke="#444" stroke-width="1.0"/>
<line x1="670.70" y1="448.80" x2="670.70" y2="452.80" stroke="#444" stroke-width="1.0"/>
<text x="627.80" y="463.50" font-family='"Liberation Sans", sans-serif' font-size="10.8" font-weight="normal" font-style="normal" fill="#444" text-anchor="start" textLength="56.20" lengthAdjust="spacingAndGlyphs" >Time [min]</text>
<text x="0.80" y="488.40" font-family='"Liberation Serif", serif' font-size="19.5" font-weight="bold" font-style="normal" fill="#000" text-anchor="start" textLength="12.80" lengthAdjust="spacingAndGlyphs" >C</text>
<line x1="106.60" y1="491.40" x2="106.60" y2="644.70" stroke="#000" stroke-width="1.5"/>
<line x1="105.90" y1="644.70" x2="638.00" y2="644.70" stroke="#000" stroke-width="1.5"/>
<line x1="106.60" y1="491.85" x2="112.60" y2="491.85" stroke="#000" stroke-width="1.3"/>
<line x1="106.60" y1="542.80" x2="112.60" y2="542.80" stroke="#000" stroke-width="1.3"/>
<line x1="106.60" y1="593.75" x2="112.60" y2="593.75" stroke="#000" stroke-width="1.3"/>
<text x="103.80" y="496.65" font-family='"Liberation Sans", sans-serif' font-size="12" font-weight="normal" font-style="normal" fill="#3a3a3a" text-anchor="end" textLength="20.40" lengthAdjust="spacingAndGlyphs" >1.5</text>
<text x="103.80" y="547.60" font-family='"Liberation Sans", sans-serif' font-size="12" font-weight="normal" font-style="normal" fill="#3a3a3a" text-anchor="end" textLength="20.40" lengthAdjust="spacingAndGlyphs" >1.0</text>
<text x="103.80" y="598.55" font-family='"Liberation Sans", sans-serif' font-size="12" font-weight="normal" font-style="normal" fill="#3a3a3a" text-anchor="end" textLength="20.40" lengthAdjust="spacingAndGlyphs" >0.5</text>
<text x="103.80" y="649.50" font-family='"Liberation Sans", sans-serif' font-size="12" font-weight="normal" font-style="normal" fill="#3a3a3a" text-anchor="end" textLength="20.40" lengthAdjust="spacingAndGlyphs" >0.0</text>
<g transform="translate(61.1,621.6) rotate(-90)">
<text x="0.00" y="0.00" font-family='"Liberation Serif", serif' font-size="13.6" font-weight="normal" font-style="normal" fill="#222" text-anchor="start" textLength="101.80" lengthAdjust="spacingAndGlyphs" >The relative carotenoids</text>
</g>
<g transform="translate(75.6,585.2) rotate(-90)">
<text x="0.00" y="0.00" font-family='"Liberation Serif", serif' font-size="13.6" font-weight="normal" font-style="normal" fill="#222" text-anchor="start" textLength="30.50" lengthAdjust="spacingAndGlyphs" >amount</text>
</g>
<rect x="114.20" y="542.80" width="15.20" height="101.90" fill="#000" stroke="none" stroke-width="0"/>
<line x1="121.80" y1="533.63" x2="121.80" y2="542.80" stroke="#000" stroke-width="1.2"/>
<line x1="117.60" y1="533.63" x2="126.00" y2="533.63" stroke="#000" stroke-width="1.3"/>
<rect x="129.40" y="586.11" width="15.20" height="58.59" fill="#fff" stroke="#111" stroke-width="1.15"/>
<line x1="137.00" y1="584.58" x2="137.00" y2="587.13" stroke="#000" stroke-width="1.2"/>
<line x1="133.00" y1="584.58" x2="141.00" y2="584.58" stroke="#000" stroke-width="1.3"/>
<line x1="133.00" y1="587.13" x2="141.00" y2="587.13" stroke="#000" stroke-width="1.3"/>
<rect x="144.60" y="572.35" width="15.20" height="72.35" fill="#fff" stroke="#111" stroke-width="1.15"/>
<line x1="152.20" y1="570.52" x2="152.20" y2="574.39" stroke="#000" stroke-width="1.2"/>
<line x1="148.20" y1="570.52" x2="156.20" y2="570.52" stroke="#000" stroke-width="1.3"/>
<line x1="148.20" y1="574.39" x2="156.20" y2="574.39" stroke="#000" stroke-width="1.3"/>
<rect x="159.80" y="549.93" width="15.20" height="94.77" fill="#fff" stroke="#111" stroke-width="1.15"/>
<line x1="167.40" y1="545.55" x2="167.40" y2="555.33" stroke="#000" stroke-width="1.2"/>
<line x1="163.40" y1="545.55" x2="171.40" y2="545.55" stroke="#000" stroke-width="1.3"/>
<line x1="163.40" y1="555.33" x2="171.40" y2="555.33" stroke="#000" stroke-width="1.3"/>
<rect x="189.65" y="542.80" width="15.20" height="101.90" fill="#000" stroke="none" stroke-width="0"/>
<line x1="193.05" y1="542.80" x2="201.45" y2="542.80" stroke="#000" stroke-width="1.3"/>
<rect x="204.85" y="572.35" width="15.20" height="72.35" fill="#fff" stroke="#111" stroke-width="1.15"/>
<line x1="212.45" y1="569.50" x2="212.45" y2="575.41" stroke="#000" stroke-width="1.2"/>
<line x1="208.45" y1="569.50" x2="216.45" y2="569.50" stroke="#000" stroke-width="1.3"/>
<line x1="208.45" y1="575.41" x2="216.45" y2="575.41" stroke="#000" stroke-width="1.3"/>
<polygon points="209.35,562.10 210.20,564.13 212.39,564.31 210.72,565.74 211.23,567.89 209.35,566.74 207.47,567.89 207.98,565.74 206.31,564.31 208.50,564.13" fill="#3a3a3a"/>
<polygon points="215.55,562.10 216.40,564.13 218.59,564.31 216.92,565.74 217.43,567.89 215.55,566.74 213.67,567.89 214.18,565.74 212.51,564.31 214.70,564.13" fill="#3a3a3a"/>
<rect x="220.05" y="582.74" width="15.20" height="61.96" fill="#fff" stroke="#111" stroke-width="1.15"/>
<line x1="227.65" y1="581.52" x2="227.65" y2="583.56" stroke="#000" stroke-width="1.2"/>
<line x1="223.65" y1="581.52" x2="231.65" y2="581.52" stroke="#000" stroke-width="1.3"/>
<line x1="223.65" y1="583.56" x2="231.65" y2="583.56" stroke="#000" stroke-width="1.3"/>
<polygon points="224.55,574.12 225.40,576.16 227.59,576.33 225.92,577.77 226.43,579.91 224.55,578.76 222.67,579.91 223.18,577.77 221.51,576.33 223.70,576.16" fill="#3a3a3a"/>
<polygon points="230.75,574.12 231.60,576.16 233.79,576.33 232.12,577.77 232.63,579.91 230.75,578.76 228.87,579.91 229.38,577.77 227.71,576.33 229.90,576.16" fill="#3a3a3a"/>
<rect x="235.25" y="573.37" width="15.20" height="71.33" fill="#fff" stroke="#111" stroke-width="1.15"/>
<line x1="242.85" y1="571.03" x2="242.85" y2="575.41" stroke="#000" stroke-width="1.2"/>
<line x1="238.85" y1="571.03" x2="246.85" y2="571.03" stroke="#000" stroke-width="1.3"/>
<line x1="238.85" y1="575.41" x2="246.85" y2="575.41" stroke="#000" stroke-width="1.3"/>
<polygon points="239.75,563.63 240.60,565.66 242.79,565.84 241.12,567.27 241.63,569.42 239.75,568.27 237.87,569.42 238.38,567.27 236.71,565.84 238.90,565.66" fill="#3a3a3a"/>
<polygon points="245.95,563.63 246.80,565.66 248.99,565.84 247.32,567.27 247.83,569.42 245.95,568.27 244.07,569.42 244.58,567.27 242.91,565.84 245.10,565.66" fill="#3a3a3a"/>
<rect x="265.10" y="542.80" width="15.20" height="101.90" fill="#000" stroke="none" stroke-width="0"/>
<line x1="272.70" y1="537.71" x2="272.70" y2="542.80" stroke="#000" stroke-width="1.2"/>
<line x1="268.50" y1="537.71" x2="276.90" y2="537.71" stroke="#000" stroke-width="1.3"/>
<rect x="280.30" y="599.15" width="15.20" height="45.55" fill="#fff" stroke="#111" stroke-width="1.15"/>
<line x1="287.90" y1="597.83" x2="287.90" y2="599.86" stroke="#000" stroke-width="1.2"/>
<line x1="283.90" y1="597.83" x2="291.90" y2="597.83" stroke="#000" stroke-width="1.3"/>
<line x1="283.90" y1="599.86" x2="291.90" y2="599.86" stroke="#000" stroke-width="1.3"/>
<polygon points="284.80,590.43 285.65,592.46 287.84,592.64 286.17,594.07 286.68,596.21 284.80,595.07 282.92,596.21 283.43,594.07 281.76,592.64 283.95,592.46" fill="#3a3a3a"/>
<polygon points="291.00,590.43 291.85,592.46 294.04,592.64 292.37,594.07 292.88,596.21 291.00,595.07 289.12,596.21 289.63,594.07 287.96,592.64 290.15,592.46" fill="#3a3a3a"/>
<rect x="295.50" y="601.90" width="15.20" height="42.80" fill="#fff" stroke="#111" stroke-width="1.15"/>
<line x1="303.10" y1="598.03" x2="303.10" y2="605.98" stroke="#000" stroke-width="1.2"/>
<line x1="299.10" y1="598.03" x2="307.10" y2="598.03" stroke="#000" stroke-width="1.3"/>
<line x1="299.10" y1="605.98" x2="307.10" y2="605.98" stroke="#000" stroke-width="1.3"/>
<polygon points="300.00,590.63 300.85,592.66 303.04,592.84 301.37,594.27 301.88,596.42 300.00,595.27 298.12,596.42 298.63,594.27 296.96,592.84 299.15,592.66" fill="#3a3a3a"/>
<polygon points="306.20,590.63 307.05,592.66 309.24,592.84 307.57,594.27 308.08,596.42 306.20,595.27 304.32,596.42 304.83,594.27 303.16,592.84 305.35,592.66" fill="#3a3a3a"/>
<rect x="310.70" y="597.32" width="15.20" height="47.38" fill="#fff" stroke="#111" stroke-width="1.15"/>
<line x1="318.30" y1="593.44" x2="318.30" y2="601.90" stroke="#000" stroke-width="1.2"/>
<line x1="314.30" y1="593.44" x2="322.30" y2="593.44" stroke="#000" stroke-width="1.3"/>
<line x1="314.30" y1="601.90" x2="322.30" y2="601.90" stroke="#000" stroke-width="1.3"/>
<polygon points="318.30,586.04 319.15,588.08 321.34,588.26 319.67,589.69 320.18,591.83 318.30,590.68 316.42,591.83 316.93,589.69 315.26,588.26 317.45,588.08" fill="#3a3a3a"/>
<rect x="340.55" y="542.80" width="15.20" height="101.90" fill="#000" stroke="none" stroke-width="0"/>
<line x1="348.15" y1="541.78" x2="348.15" y2="542.80" stroke="#000" stroke-width="1.2"/>
<line x1="343.95" y1="541.78" x2="352.35" y2="541.78" stroke="#000" stroke-width="1.3"/>
<rect x="355.75" y="580.50" width="15.20" height="64.20" fill="#fff" stroke="#111" stroke-width="1.15"/>
<line x1="363.35" y1="574.59" x2="363.35" y2="586.82" stroke="#000" stroke-width="1.2"/>
<line x1="359.35" y1="574.59" x2="367.35" y2="574.59" stroke="#000" stroke-width="1.3"/>
<line x1="359.35" y1="586.82" x2="367.35" y2="586.82" stroke="#000" stroke-width="1.3"/>
<polygon points="363.35,567.19 364.20,569.23 366.39,569.40 364.72,570.84 365.23,572.98 363.35,571.83 361.47,572.98 361.98,570.84 360.31,569.40 362.50,569.23" fill="#3a3a3a"/>
<rect x="370.95" y="593.75" width="15.20" height="50.95" fill="#fff" stroke="#111" stroke-width="1.15"/>
<line x1="378.55" y1="588.66" x2="378.55" y2="598.95" stroke="#000" stroke-width="1.2"/>
<line x1="374.55" y1="588.66" x2="382.55" y2="588.66" stroke="#000" stroke-width="1.3"/>
<line x1="374.55" y1="598.95" x2="382.55" y2="598.95" stroke="#000" stroke-width="1.3"/>
<polygon points="375.45,581.25 376.30,583.29 378.49,583.47 376.82,584.90 377.33,587.04 375.45,585.90 373.57,587.04 374.08,584.90 372.41,583.47 374.60,583.29" fill="#3a3a3a"/>
<polygon points="381.65,581.25 382.50,583.29 384.69,583.47 383.02,584.90 383.53,587.04 381.65,585.90 379.77,587.04 380.28,584.90 378.61,583.47 380.80,583.29" fill="#3a3a3a"/>
<rect x="386.15" y="595.07" width="15.20" height="49.63" fill="#fff" stroke="#111" stroke-width="1.15"/>
<line x1="393.75" y1="591.00" x2="393.75" y2="598.95" stroke="#000" stroke-width="1.2"/>
<line x1="389.75" y1="591.00" x2="397.75" y2="591.00" stroke="#000" stroke-width="1.3"/>
<line x1="389.75" y1="598.95" x2="397.75" y2="598.95" stroke="#000" stroke-width="1.3"/>
<polygon points="390.65,583.60 391.50,585.63 393.69,585.81 392.02,587.24 392.53,589.39 390.65,588.24 388.77,589.39 389.28,587.24 387.61,585.81 389.80,585.63" fill="#3a3a3a"/>
<polygon points="396.85,583.60 397.70,585.63 399.89,585.81 398.22,587.24 398.73,589.39 396.85,588.24 394.97,589.39 395.48,587.24 393.81,585.81 396.00,585.63" fill="#3a3a3a"/>
<rect x="416.00" y="542.80" width="15.20" height="101.90" fill="#000" stroke="none" stroke-width="0"/>
<line x1="423.60" y1="538.72" x2="423.60" y2="542.80" stroke="#000" stroke-width="1.2"/>
<line x1="419.40" y1="538.72" x2="427.80" y2="538.72" stroke="#000" stroke-width="1.3"/>
<rect x="431.20" y="574.39" width="15.20" height="70.31" fill="#fff" stroke="#111" stroke-width="1.15"/>
<line x1="438.80" y1="573.88" x2="438.80" y2="574.90" stroke="#000" stroke-width="1.2"/>
<line x1="434.80" y1="573.88" x2="442.80" y2="573.88" stroke="#000" stroke-width="1.3"/>
<line x1="434.80" y1="574.90" x2="442.80" y2="574.90" stroke="#000" stroke-width="1.3"/>
<polygon points="438.80,566.48 439.65,568.51 441.84,568.69 440.17,570.12 440.68,572.27 438.80,571.12 436.92,572.27 437.43,570.12 435.76,568.69 437.95,568.51" fill="#3a3a3a"/>
<rect x="446.40" y="599.86" width="15.20" height="44.84" fill="#fff" stroke="#111" stroke-width="1.15"/>
<line x1="454.00" y1="593.14" x2="454.00" y2="601.90" stroke="#000" stroke-width="1.2"/>
<line x1="450.00" y1="593.14" x2="458.00" y2="593.14" stroke="#000" stroke-width="1.3"/>
<line x1="450.00" y1="601.90" x2="458.00" y2="601.90" stroke="#000" stroke-width="1.3"/>
<polygon points="450.90,585.74 451.75,587.77 453.94,587.95 452.27,589.38 452.78,591.53 450.90,590.38 449.02,591.53 449.53,589.38 447.86,587.95 450.05,587.77" fill="#3a3a3a"/>
<polygon points="457.10,585.74 457.95,587.77 460.14,587.95 458.47,589.38 458.98,591.53 457.10,590.38 455.22,591.53 455.73,589.38 454.06,587.95 456.25,587.77" fill="#3a3a3a"/>
<rect x="461.60" y="576.12" width="15.20" height="68.58" fill="#fff" stroke="#111" stroke-width="1.15"/>
<line x1="469.20" y1="573.68" x2="469.20" y2="579.38" stroke="#000" stroke-width="1.2"/>
<line x1="465.20" y1="573.68" x2="473.20" y2="573.68" stroke="#000" stroke-width="1.3"/>
<line x1="465.20" y1="579.38" x2="473.20" y2="579.38" stroke="#000" stroke-width="1.3"/>
<polygon points="466.10,566.28 466.95,568.31 469.14,568.49 467.47,569.92 467.98,572.06 466.10,570.92 464.22,572.06 464.73,569.92 463.06,568.49 465.25,568.31" fill="#3a3a3a"/>
<polygon points="472.30,566.28 473.15,568.31 475.34,568.49 473.67,569.92 474.18,572.06 472.30,570.92 470.42,572.06 470.93,569.92 469.26,568.49 471.45,568.31" fill="#3a3a3a"/>
<rect x="491.45" y="542.80" width="15.20" height="101.90" fill="#000" stroke="none" stroke-width="0"/>
<line x1="499.05" y1="541.78" x2="499.05" y2="542.80" stroke="#000" stroke-width="1.2"/>
<line x1="494.85" y1="541.78" x2="503.25" y2="541.78" stroke="#000" stroke-width="1.3"/>
<rect x="506.65" y="583.56" width="15.20" height="61.14" fill="#fff" stroke="#111" stroke-width="1.15"/>
<line x1="510.25" y1="583.56" x2="518.25" y2="583.56" stroke="#000" stroke-width="1.8"/>
<polygon points="511.15,576.16 512.00,578.20 514.19,578.37 512.52,579.80 513.03,581.95 511.15,580.80 509.27,581.95 509.78,579.80 508.11,578.37 510.30,578.20" fill="#3a3a3a"/>
<polygon points="517.35,576.16 518.20,578.20 520.39,578.37 518.72,579.80 519.23,581.95 517.35,580.80 515.47,581.95 515.98,579.80 514.31,578.37 516.50,578.20" fill="#3a3a3a"/>
<rect x="521.85" y="593.75" width="15.20" height="50.95" fill="#fff" stroke="#111" stroke-width="1.15"/>
<line x1="529.45" y1="589.06" x2="529.45" y2="597.52" stroke="#000" stroke-width="1.2"/>
<line x1="525.45" y1="589.06" x2="533.45" y2="589.06" stroke="#000" stroke-width="1.3"/>
<line x1="525.45" y1="597.52" x2="533.45" y2="597.52" stroke="#000" stroke-width="1.3"/>
<polygon points="526.35,581.66 527.20,583.70 529.39,583.87 527.72,585.31 528.23,587.45 526.35,586.30 524.47,587.45 524.98,585.31 523.31,583.87 525.50,583.70" fill="#3a3a3a"/>
<polygon points="532.55,581.66 533.40,583.70 535.59,583.87 533.92,585.31 534.43,587.45 532.55,586.30 530.67,587.45 531.18,585.31 529.51,583.87 531.70,583.70" fill="#3a3a3a"/>
<rect x="537.05" y="579.48" width="15.20" height="65.22" fill="#fff" stroke="#111" stroke-width="1.15"/>
<line x1="544.65" y1="578.47" x2="544.65" y2="580.50" stroke="#000" stroke-width="1.2"/>
<line x1="540.65" y1="578.47" x2="548.65" y2="578.47" stroke="#000" stroke-width="1.3"/>
<line x1="540.65" y1="580.50" x2="548.65" y2="580.50" stroke="#000" stroke-width="1.3"/>
<polygon points="541.55,571.06 542.40,573.10 544.59,573.28 542.92,574.71 543.43,576.85 541.55,575.71 539.67,576.85 540.18,574.71 538.51,573.28 540.70,573.10" fill="#3a3a3a"/>
<polygon points="547.75,571.06 548.60,573.10 550.79,573.28 549.12,574.71 549.63,576.85 547.75,575.71 545.87,576.85 546.38,574.71 544.71,573.28 546.90,573.10" fill="#3a3a3a"/>
<rect x="566.90" y="542.80" width="15.20" height="101.90" fill="#000" stroke="none" stroke-width="0"/>
<line x1="574.50" y1="538.72" x2="574.50" y2="542.80" stroke="#000" stroke-width="1.2"/>
<line x1="570.30" y1="538.72" x2="578.70" y2="538.72" stroke="#000" stroke-width="1.3"/>
<rect x="582.10" y="591.10" width="15.20" height="53.60" fill="#fff" stroke="#111" stroke-width="1.15"/>
<line x1="585.70" y1="591.10" x2="593.70" y2="591.10" stroke="#000" stroke-width="1.8"/>
<polygon points="586.60,583.70 587.45,585.74 589.64,585.91 587.97,587.35 588.48,589.49 586.60,588.34 584.72,589.49 585.23,587.35 583.56,585.91 585.75,585.74" fill="#3a3a3a"/>
<polygon points="592.80,583.70 593.65,585.74 595.84,585.91 594.17,587.35 594.68,589.49 592.80,588.34 590.92,589.49 591.43,587.35 589.76,585.91 591.95,585.74" fill="#3a3a3a"/>
<rect x="597.30" y="598.95" width="15.20" height="45.75" fill="#fff" stroke="#111" stroke-width="1.15"/>
<line x1="604.90" y1="596.50" x2="604.90" y2="600.88" stroke="#000" stroke-width="1.2"/>
<line x1="600.90" y1="596.50" x2="608.90" y2="596.50" stroke="#000" stroke-width="1.3"/>
<line x1="600.90" y1="600.88" x2="608.90" y2="600.88" stroke="#000" stroke-width="1.3"/>
<polygon points="601.80,589.10 602.65,591.14 604.84,591.31 603.17,592.75 603.68,594.89 601.80,593.74 599.92,594.89 600.43,592.75 598.76,591.31 600.95,591.14" fill="#3a3a3a"/>
<polygon points="608.00,589.10 608.85,591.14 611.04,591.31 609.37,592.75 609.88,594.89 608.00,593.74 606.12,594.89 606.63,592.75 604.96,591.31 607.15,591.14" fill="#3a3a3a"/>
<rect x="612.50" y="595.69" width="15.20" height="49.01" fill="#fff" stroke="#111" stroke-width="1.15"/>
<line x1="620.10" y1="593.75" x2="620.10" y2="597.52" stroke="#000" stroke-width="1.2"/>
<line x1="616.10" y1="593.75" x2="624.10" y2="593.75" stroke="#000" stroke-width="1.3"/>
<line x1="616.10" y1="597.52" x2="624.10" y2="597.52" stroke="#000" stroke-width="1.3"/>
<polygon points="617.00,586.35 617.85,588.39 620.04,588.56 618.37,589.99 618.88,592.14 617.00,590.99 615.12,592.14 615.63,589.99 613.96,588.56 616.15,588.39" fill="#3a3a3a"/>
<polygon points="623.20,586.35 624.05,588.39 626.24,588.56 624.57,589.99 625.08,592.14 623.20,590.99 621.32,592.14 621.83,589.99 620.16,588.56 622.35,588.39" fill="#3a3a3a"/>
<rect x="573.90" y="500.70" width="21.80" height="9.10" fill="#000" stroke="none" stroke-width="0"/>
<rect x="574.5" y="519.2" width="20.6" height="8.0" fill="#fff" stroke="#222" stroke-width="1.1"/>
<text x="606.70" y="508.70" font-family='"Liberation Sans", sans-serif' font-size="14" font-weight="normal" font-style="normal" fill="#222" text-anchor="start" textLength="25.40" lengthAdjust="spacingAndGlyphs" >WT</text>
<text x="606.70" y="527.20" font-family='"Liberation Sans", sans-serif' font-size="14" font-weight="normal" font-style="normal" fill="#222" text-anchor="start" textLength="23.30" lengthAdjust="spacingAndGlyphs" >line</text>
<text x="120.40" y="661.60" font-family='"Liberation Serif", serif' font-size="11" font-weight="normal" font-style="normal" fill="#222" text-anchor="start" textLength="44.70" lengthAdjust="spacingAndGlyphs" >Phytoene</text>
<text x="197.80" y="661.80" font-family='"Liberation Serif", serif' font-size="11" font-weight="normal" font-style="normal" fill="#222" text-anchor="start" textLength="31.00" lengthAdjust="spacingAndGlyphs" >Lutein</text>
<text x="344.00" y="661.30" font-family='"Liberation Serif", serif' font-size="11" font-weight="normal" font-style="normal" fill="#222" text-anchor="start" textLength="52.00" lengthAdjust="spacingAndGlyphs" >Zeaxanthin</text>
<text x="411.60" y="661.00" font-family='"Liberation Serif", serif' font-size="11" font-weight="normal" font-style="normal" fill="#222" text-anchor="start" textLength="75.80" lengthAdjust="spacingAndGlyphs" >Antheraxanthin</text>
<text x="497.80" y="661.00" font-family='"Liberation Serif", serif' font-size="11" font-weight="normal" font-style="normal" fill="#222" text-anchor="start" textLength="62.40" lengthAdjust="spacingAndGlyphs" >Violaxanthin</text>
<text x="573.90" y="661.00" font-family='"Liberation Serif", serif' font-size="11" font-weight="normal" font-style="normal" fill="#222" text-anchor="start" textLength="57.00" lengthAdjust="spacingAndGlyphs" >Neoxanthin</text>
<text x="266.60" y="659.30" font-family='"Liberation Serif", serif' font-size="11" font-weight="normal" font-style="normal" fill="#222" text-anchor="start" textLength="53.20" lengthAdjust="spacingAndGlyphs" >Lutein-5-6-</text>
<text x="266.60" y="668.50" font-family='"Liberation Serif", serif' font-size="11" font-weight="normal" font-style="normal" fill="#222" text-anchor="start" textLength="36.80" lengthAdjust="spacingAndGlyphs" >epoxide</text>
</svg>
</body></html>
